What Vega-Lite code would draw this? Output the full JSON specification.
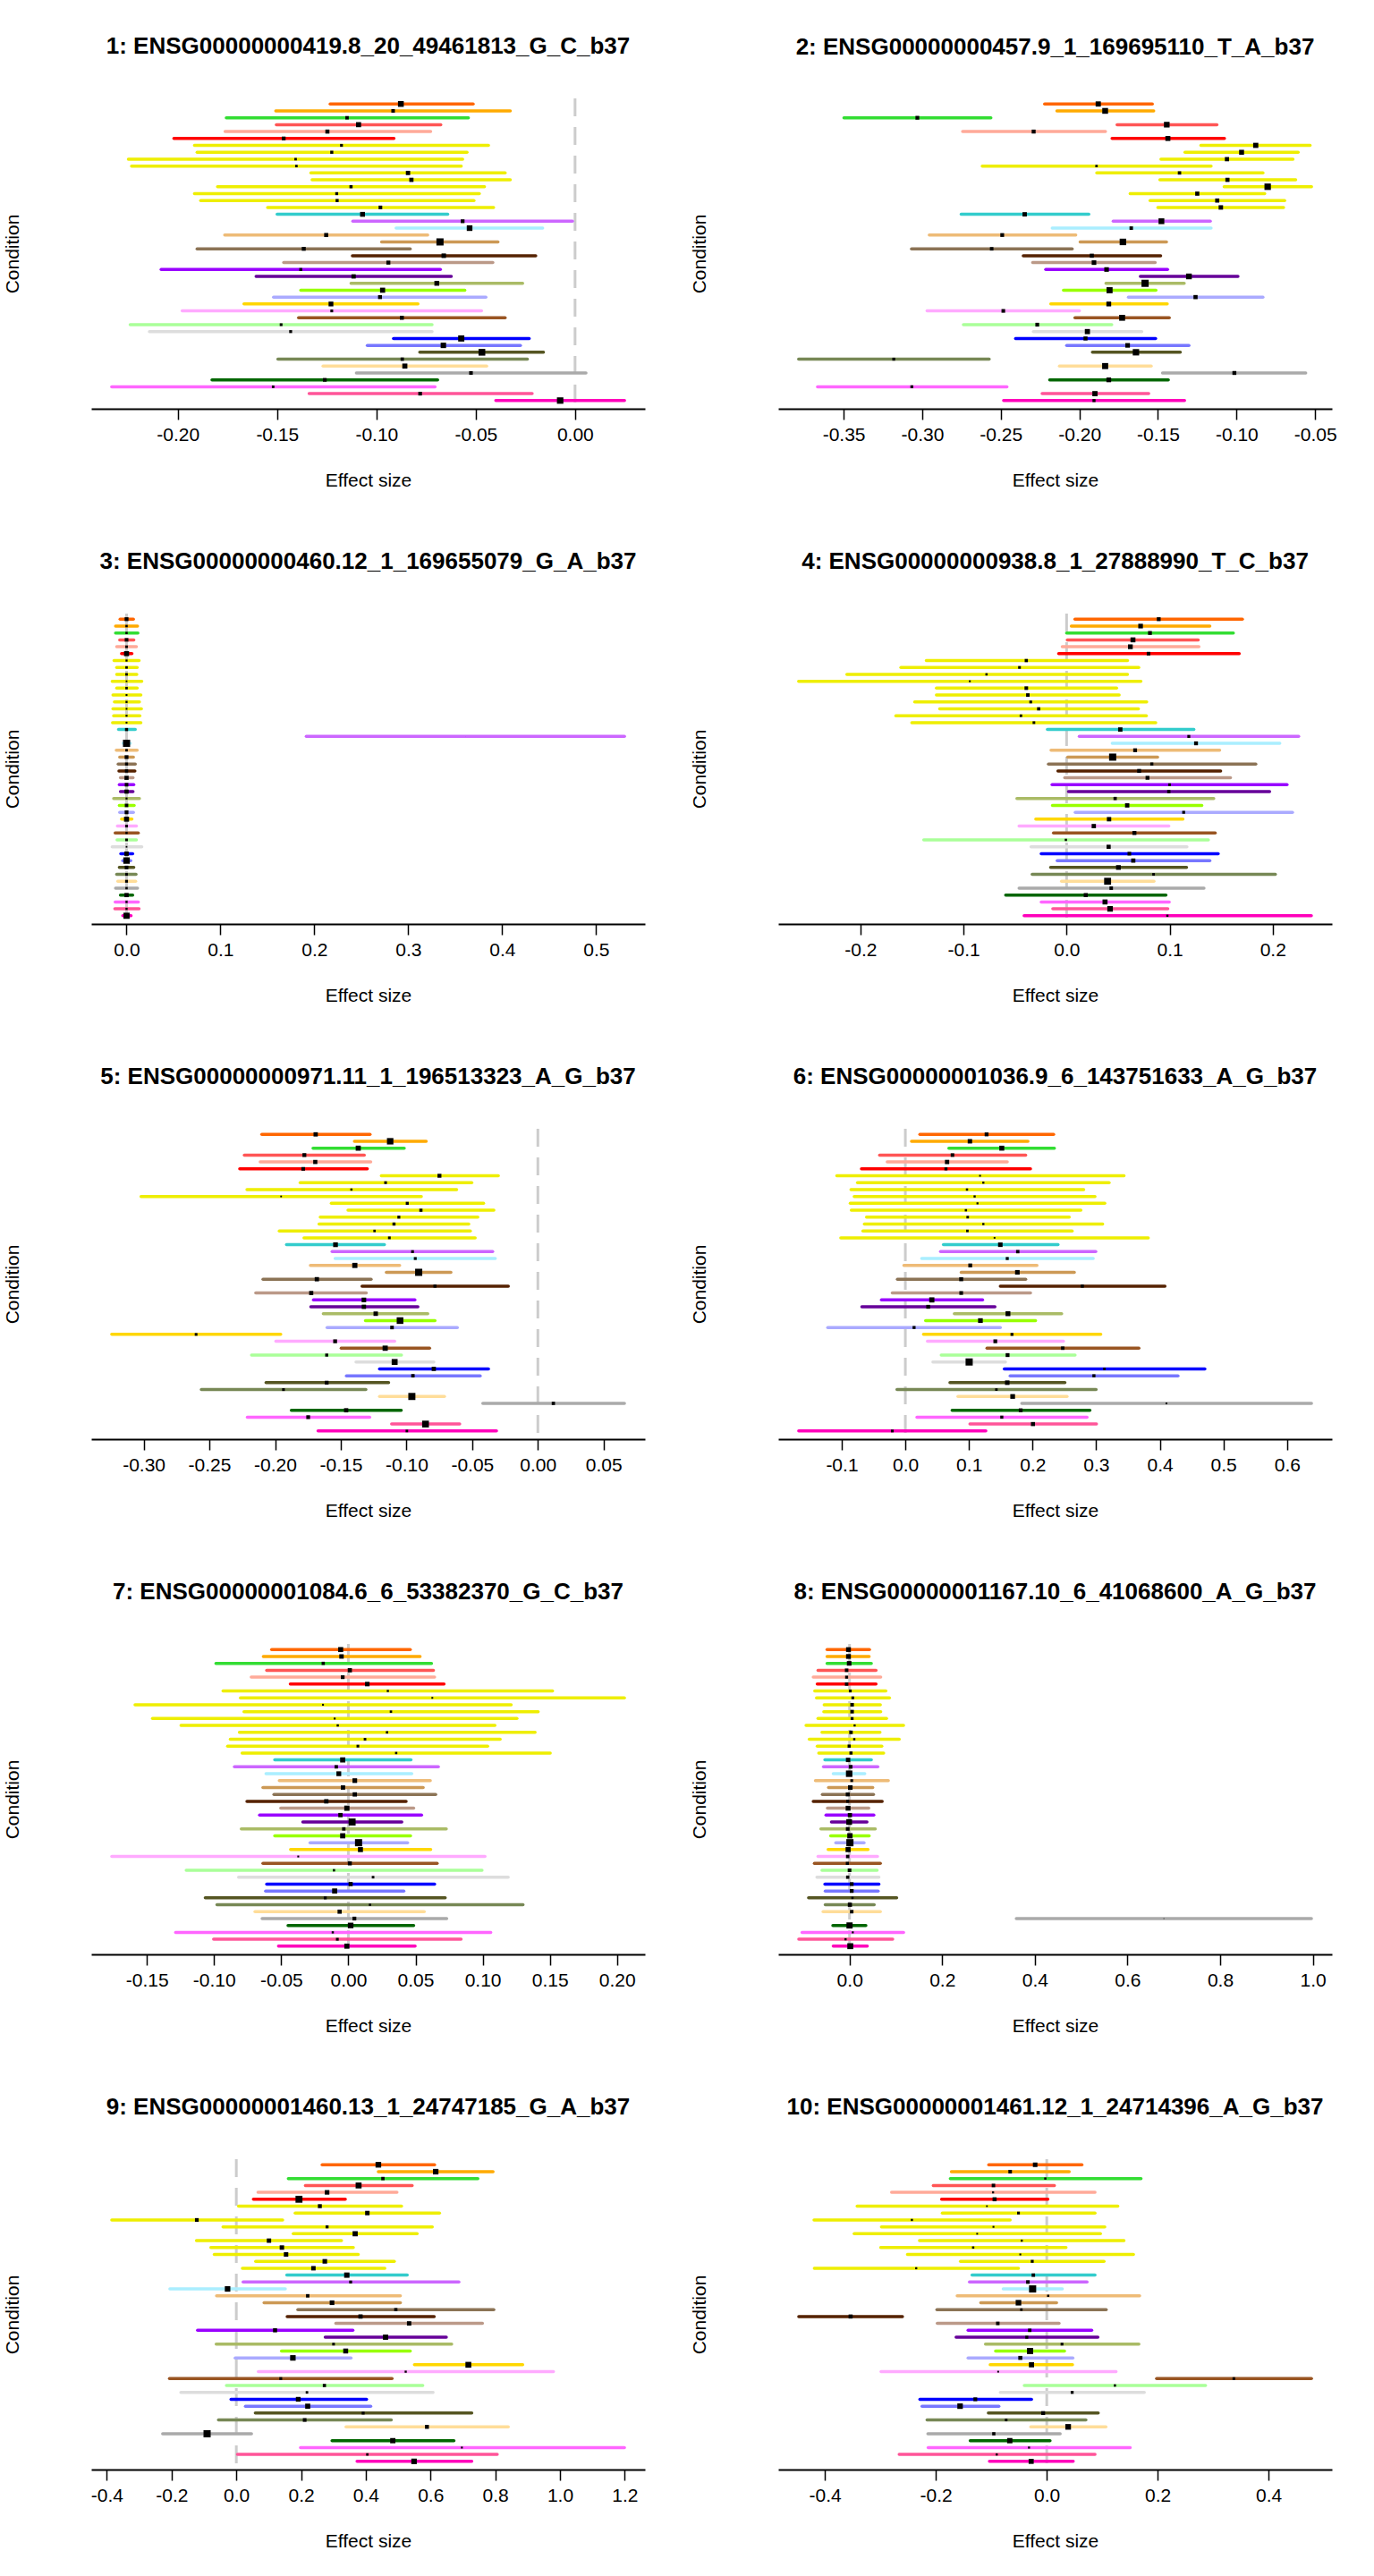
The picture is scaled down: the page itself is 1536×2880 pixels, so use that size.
{
"$schema": "https://vega.github.io/schema/vega-lite/v6.json",
"background": "white",
"padding": {"left": 3, "top": 38, "right": 0, "bottom": 0},
"data": {"values": [
{"g":1,"c":"ADPSBQ","lo":-0.1233,"m":-0.0877,"hi":-0.0513,"s":0.81},
{"g":1,"c":"ADPVSC","lo":-0.1507,"m":-0.0916,"hi":-0.0326,"s":0.50},
{"g":1,"c":"ADRNLG","lo":-0.1756,"m":-0.1148,"hi":-0.0537,"s":0.48},
{"g":1,"c":"ARTAORT","lo":-0.1504,"m":-0.1090,"hi":-0.0676,"s":0.71},
{"g":1,"c":"ARTCRN","lo":-0.1762,"m":-0.1247,"hi":-0.0727,"s":0.57},
{"g":1,"c":"ARTTBL","lo":-0.2020,"m":-0.1467,"hi":-0.0912,"s":0.53},
{"g":1,"c":"BRNACC","lo":-0.1916,"m":-0.1176,"hi":-0.0436,"s":0.40},
{"g":1,"c":"BRNCDT","lo":-0.1903,"m":-0.1225,"hi":-0.0544,"s":0.43},
{"g":1,"c":"BRNCHA","lo":-0.2249,"m":-0.1407,"hi":-0.0566,"s":0.35},
{"g":1,"c":"BRNCHB","lo":-0.2233,"m":-0.1403,"hi":-0.0573,"s":0.35},
{"g":1,"c":"BRNCTXA","lo":-0.1330,"m":-0.0841,"hi":-0.0352,"s":0.60},
{"g":1,"c":"BRNCTXB","lo":-0.1324,"m":-0.0824,"hi":-0.0326,"s":0.59},
{"g":1,"c":"BRNHPP","lo":-0.1800,"m":-0.1128,"hi":-0.0456,"s":0.44},
{"g":1,"c":"BRNHPT","lo":-0.1916,"m":-0.1200,"hi":-0.0482,"s":0.41},
{"g":1,"c":"BRNNCC","lo":-0.1885,"m":-0.1198,"hi":-0.0509,"s":0.43},
{"g":1,"c":"BRNPTM","lo":-0.1548,"m":-0.0980,"hi":-0.0410,"s":0.51},
{"g":1,"c":"BREAST","lo":-0.1500,"m":-0.1070,"hi":-0.0641,"s":0.68},
{"g":1,"c":"LCL","lo":-0.1119,"m":-0.0566,"hi":-0.0013,"s":0.53},
{"g":1,"c":"FIBRBLS","lo":-0.0901,"m":-0.0531,"hi":-0.0163,"s":0.79},
{"g":1,"c":"CLNSGM","lo":-0.1764,"m":-0.1253,"hi":-0.0742,"s":0.57},
{"g":1,"c":"CLNTRN","lo":-0.0974,"m":-0.0680,"hi":-0.0388,"s":1.00},
{"g":1,"c":"ESPGEJ","lo":-0.1903,"m":-0.1366,"hi":-0.0830,"s":0.55},
{"g":1,"c":"ESPMCS","lo":-0.1121,"m":-0.0661,"hi":-0.0198,"s":0.63},
{"g":1,"c":"ESPMSL","lo":-0.1467,"m":-0.0940,"hi":-0.0414,"s":0.56},
{"g":1,"c":"HRTAA","lo":-0.2084,"m":-0.1381,"hi":-0.0678,"s":0.42},
{"g":1,"c":"HRTLV","lo":-0.1606,"m":-0.1115,"hi":-0.0623,"s":0.60},
{"g":1,"c":"LIVER","lo":-0.1128,"m":-0.0696,"hi":-0.0264,"s":0.68},
{"g":1,"c":"LUNG","lo":-0.1381,"m":-0.0969,"hi":-0.0555,"s":0.71},
{"g":1,"c":"MSCLSK","lo":-0.1518,"m":-0.0982,"hi":-0.0449,"s":0.55},
{"g":1,"c":"NERVET","lo":-0.1667,"m":-0.1229,"hi":-0.0791,"s":0.67},
{"g":1,"c":"OVARY","lo":-0.1978,"m":-0.1225,"hi":-0.0471,"s":0.39},
{"g":1,"c":"PNCREAS","lo":-0.1392,"m":-0.0872,"hi":-0.0352,"s":0.56},
{"g":1,"c":"PTTARY","lo":-0.2240,"m":-0.1480,"hi":-0.0720,"s":0.39},
{"g":1,"c":"PRSTTE","lo":-0.2143,"m":-0.1432,"hi":-0.0720,"s":0.41},
{"g":1,"c":"SKINNS","lo":-0.0914,"m":-0.0573,"hi":-0.0231,"s":0.86},
{"g":1,"c":"SKINS","lo":-0.1046,"m":-0.0663,"hi":-0.0275,"s":0.76},
{"g":1,"c":"SNTTRM","lo":-0.0782,"m":-0.0469,"hi":-0.0159,"s":0.94},
{"g":1,"c":"SPLEEN","lo":-0.1496,"m":-0.0870,"hi":-0.0240,"s":0.47},
{"g":1,"c":"STMACH","lo":-0.1269,"m":-0.0857,"hi":-0.0445,"s":0.71},
{"g":1,"c":"TESTIS","lo":-0.1101,"m":-0.0524,"hi":0.0055,"s":0.51},
{"g":1,"c":"THYROID","lo":-0.1828,"m":-0.1260,"hi":-0.0692,"s":0.52},
{"g":1,"c":"UTERUS","lo":-0.2333,"m":-0.1520,"hi":-0.0705,"s":0.36},
{"g":1,"c":"VAGINA","lo":-0.1339,"m":-0.0780,"hi":-0.0216,"s":0.52},
{"g":1,"c":"WHLBLD","lo":-0.0399,"m":-0.0075,"hi":0.0249,"s":0.90},
{"g":2,"c":"ADPSBQ","lo":-0.2221,"m":-0.1880,"hi":-0.1536,"s":0.73},
{"g":2,"c":"ADPVSC","lo":-0.2143,"m":-0.1836,"hi":-0.1527,"s":0.81},
{"g":2,"c":"ADRNLG","lo":-0.3498,"m":-0.3031,"hi":-0.2563,"s":0.53},
{"g":2,"c":"ARTAORT","lo":-0.1760,"m":-0.1444,"hi":-0.1125,"s":0.79},
{"g":2,"c":"ARTCRN","lo":-0.2743,"m":-0.2291,"hi":-0.1834,"s":0.55},
{"g":2,"c":"ARTTBL","lo":-0.1792,"m":-0.1437,"hi":-0.1077,"s":0.70},
{"g":2,"c":"BRNACC","lo":-0.1227,"m":-0.0878,"hi":-0.0532,"s":0.72},
{"g":2,"c":"BRNCDT","lo":-0.1328,"m":-0.0968,"hi":-0.0608,"s":0.69},
{"g":2,"c":"BRNCHA","lo":-0.1481,"m":-0.1061,"hi":-0.0641,"s":0.59},
{"g":2,"c":"BRNCHB","lo":-0.2618,"m":-0.1891,"hi":-0.1162,"s":0.34},
{"g":2,"c":"BRNCTXA","lo":-0.1889,"m":-0.1363,"hi":-0.0832,"s":0.47},
{"g":2,"c":"BRNCTXB","lo":-0.1488,"m":-0.1058,"hi":-0.0624,"s":0.58},
{"g":2,"c":"BRNHPP","lo":-0.1079,"m":-0.0802,"hi":-0.0523,"s":0.90},
{"g":2,"c":"BRNHPT","lo":-0.1677,"m":-0.1250,"hi":-0.0821,"s":0.58},
{"g":2,"c":"BRNNCC","lo":-0.1550,"m":-0.1123,"hi":-0.0694,"s":0.58},
{"g":2,"c":"BRNPTM","lo":-0.1501,"m":-0.1100,"hi":-0.0701,"s":0.62},
{"g":2,"c":"BREAST","lo":-0.2752,"m":-0.2348,"hi":-0.1940,"s":0.61},
{"g":2,"c":"LCL","lo":-0.1785,"m":-0.1478,"hi":-0.1167,"s":0.81},
{"g":2,"c":"FIBRBLS","lo":-0.2173,"m":-0.1670,"hi":-0.1162,"s":0.49},
{"g":2,"c":"CLNSGM","lo":-0.2955,"m":-0.2491,"hi":-0.2023,"s":0.53},
{"g":2,"c":"CLNTRN","lo":-0.1995,"m":-0.1723,"hi":-0.1446,"s":0.91},
{"g":2,"c":"ESPGEJ","lo":-0.3068,"m":-0.2558,"hi":-0.2046,"s":0.49},
{"g":2,"c":"ESPMCS","lo":-0.2357,"m":-0.1921,"hi":-0.1483,"s":0.57},
{"g":2,"c":"ESPMSL","lo":-0.2297,"m":-0.1907,"hi":-0.1518,"s":0.64},
{"g":2,"c":"HRTAA","lo":-0.2214,"m":-0.1827,"hi":-0.1439,"s":0.64},
{"g":2,"c":"HRTLV","lo":-0.1612,"m":-0.1303,"hi":-0.0991,"s":0.80},
{"g":2,"c":"LIVER","lo":-0.1831,"m":-0.1582,"hi":-0.1333,"s":1.00},
{"g":2,"c":"LUNG","lo":-0.2101,"m":-0.1808,"hi":-0.1513,"s":0.85},
{"g":2,"c":"MSCLSK","lo":-0.1688,"m":-0.1261,"hi":-0.0832,"s":0.58},
{"g":2,"c":"NERVET","lo":-0.2182,"m":-0.1813,"hi":-0.1441,"s":0.67},
{"g":2,"c":"OVARY","lo":-0.2969,"m":-0.2484,"hi":-0.2000,"s":0.51},
{"g":2,"c":"PNCREAS","lo":-0.2028,"m":-0.1728,"hi":-0.1428,"s":0.83},
{"g":2,"c":"PTTARY","lo":-0.2738,"m":-0.2268,"hi":-0.1794,"s":0.53},
{"g":2,"c":"PRSTTE","lo":-0.2293,"m":-0.1949,"hi":-0.1603,"s":0.72},
{"g":2,"c":"SKINNS","lo":-0.2406,"m":-0.1961,"hi":-0.1515,"s":0.56},
{"g":2,"c":"SKINS","lo":-0.2081,"m":-0.1693,"hi":-0.1303,"s":0.64},
{"g":2,"c":"SNTTRM","lo":-0.1917,"m":-0.1640,"hi":-0.1358,"s":0.89},
{"g":2,"c":"SPLEEN","lo":-0.3786,"m":-0.3181,"hi":-0.2574,"s":0.41},
{"g":2,"c":"STMACH","lo":-0.2127,"m":-0.1836,"hi":-0.1543,"s":0.85},
{"g":2,"c":"TESTIS","lo":-0.1471,"m":-0.1014,"hi":-0.0560,"s":0.55},
{"g":2,"c":"THYROID","lo":-0.2189,"m":-0.1813,"hi":-0.1434,"s":0.66},
{"g":2,"c":"UTERUS","lo":-0.3666,"m":-0.3066,"hi":-0.2461,"s":0.41},
{"g":2,"c":"VAGINA","lo":-0.2237,"m":-0.1901,"hi":-0.1559,"s":0.73},
{"g":2,"c":"WHLBLD","lo":-0.2482,"m":-0.1907,"hi":-0.1331,"s":0.43},
{"g":3,"c":"ADPSBQ","lo":-0.0069,"m":0,"hi":0.0073,"s":0.54},
{"g":3,"c":"ADPVSC","lo":-0.0117,"m":0,"hi":0.0117,"s":0.33},
{"g":3,"c":"ADRNLG","lo":-0.0117,"m":0,"hi":0.0121,"s":0.32},
{"g":3,"c":"ARTAORT","lo":-0.0073,"m":0,"hi":0.0077,"s":0.51},
{"g":3,"c":"ARTCRN","lo":-0.0105,"m":0,"hi":0.0105,"s":0.37},
{"g":3,"c":"ARTTBL","lo":-0.0053,"m":0,"hi":0.0057,"s":0.70},
{"g":3,"c":"BRNACC","lo":-0.0133,"m":0,"hi":0.0133,"s":0.29},
{"g":3,"c":"BRNCDT","lo":-0.0105,"m":0,"hi":0.0113,"s":0.35},
{"g":3,"c":"BRNCHA","lo":-0.0105,"m":0,"hi":0.0109,"s":0.36},
{"g":3,"c":"BRNCHB","lo":-0.0153,"m":0,"hi":0.0162,"s":0.24},
{"g":3,"c":"BRNCTXA","lo":-0.0105,"m":0,"hi":0.0113,"s":0.35},
{"g":3,"c":"BRNCTXB","lo":-0.0145,"m":0,"hi":0.0153,"s":0.26},
{"g":3,"c":"BRNHPP","lo":-0.0129,"m":0,"hi":0.0137,"s":0.29},
{"g":3,"c":"BRNHPT","lo":-0.0145,"m":0,"hi":0.0158,"s":0.25},
{"g":3,"c":"BRNNCC","lo":-0.0137,"m":0,"hi":0.0141,"s":0.28},
{"g":3,"c":"BRNPTM","lo":-0.0149,"m":0,"hi":0.0153,"s":0.25},
{"g":3,"c":"BREAST","lo":-0.0085,"m":0,"hi":0.0093,"s":0.43},
{"g":3,"c":"LCL","lo":0.1914,"m":0.3607,"hi":0.5303,"s":0.02},
{"g":3,"c":"FIBRBLS","lo":-0.0036,"m":0,"hi":0.0040,"s":1.00},
{"g":3,"c":"CLNSGM","lo":-0.0109,"m":0,"hi":0.0113,"s":0.35},
{"g":3,"c":"CLNTRN","lo":-0.0073,"m":0,"hi":0.0073,"s":0.53},
{"g":3,"c":"ESPGEJ","lo":-0.0089,"m":0,"hi":0.0093,"s":0.42},
{"g":3,"c":"ESPMCS","lo":-0.0081,"m":0,"hi":0.0089,"s":0.45},
{"g":3,"c":"ESPMSL","lo":-0.0065,"m":0,"hi":0.0069,"s":0.58},
{"g":3,"c":"HRTAA","lo":-0.0077,"m":0,"hi":0.0077,"s":0.50},
{"g":3,"c":"HRTLV","lo":-0.0065,"m":0,"hi":0.0069,"s":0.58},
{"g":3,"c":"LIVER","lo":-0.0137,"m":0,"hi":0.0137,"s":0.28},
{"g":3,"c":"LUNG","lo":-0.0077,"m":0,"hi":0.0081,"s":0.49},
{"g":3,"c":"MSCLSK","lo":-0.0073,"m":0,"hi":0.0073,"s":0.53},
{"g":3,"c":"NERVET","lo":-0.0053,"m":0,"hi":0.0057,"s":0.70},
{"g":3,"c":"OVARY","lo":-0.0097,"m":0,"hi":0.0105,"s":0.38},
{"g":3,"c":"PNCREAS","lo":-0.0121,"m":0,"hi":0.0125,"s":0.31},
{"g":3,"c":"PTTARY","lo":-0.0101,"m":0,"hi":0.0105,"s":0.37},
{"g":3,"c":"PRSTTE","lo":-0.0153,"m":0,"hi":0.0162,"s":0.24},
{"g":3,"c":"SKINNS","lo":-0.0061,"m":0,"hi":0.0065,"s":0.61},
{"g":3,"c":"SKINS","lo":-0.0040,"m":0,"hi":0.0044,"s":0.90},
{"g":3,"c":"SNTTRM","lo":-0.0077,"m":0,"hi":0.0077,"s":0.50},
{"g":3,"c":"SPLEEN","lo":-0.0105,"m":0,"hi":0.0101,"s":0.37},
{"g":3,"c":"STMACH","lo":-0.0093,"m":0,"hi":0.0097,"s":0.40},
{"g":3,"c":"TESTIS","lo":-0.0117,"m":0,"hi":0.0117,"s":0.33},
{"g":3,"c":"THYROID","lo":-0.0065,"m":0,"hi":0.0065,"s":0.59},
{"g":3,"c":"UTERUS","lo":-0.0121,"m":0,"hi":0.0125,"s":0.31},
{"g":3,"c":"VAGINA","lo":-0.0125,"m":0,"hi":0.0133,"s":0.30},
{"g":3,"c":"WHLBLD","lo":-0.0040,"m":0,"hi":0.0048,"s":0.86},
{"g":4,"c":"ADPSBQ","lo":0.0081,"m":0.0894,"hi":0.1706,"s":0.54},
{"g":4,"c":"ADPVSC","lo":0.0046,"m":0.0718,"hi":0.1390,"s":0.65},
{"g":4,"c":"ADRNLG","lo":0.0000,"m":0.0809,"hi":0.1618,"s":0.54},
{"g":4,"c":"ARTAORT","lo":0.0007,"m":0.0644,"hi":0.1277,"s":0.69},
{"g":4,"c":"ARTCRN","lo":-0.0042,"m":0.0619,"hi":0.1284,"s":0.66},
{"g":4,"c":"ARTTBL","lo":-0.0077,"m":0.0795,"hi":0.1675,"s":0.50},
{"g":4,"c":"BRNACC","lo":-0.1361,"m":-0.0391,"hi":0.0591,"s":0.45},
{"g":4,"c":"BRNCDT","lo":-0.1608,"m":-0.0457,"hi":0.0700,"s":0.38},
{"g":4,"c":"BRNCHA","lo":-0.2132,"m":-0.0777,"hi":0.0591,"s":0.32},
{"g":4,"c":"BRNCHB","lo":-0.2600,"m":-0.0939,"hi":0.0721,"s":0.26},
{"g":4,"c":"BRNCTXA","lo":-0.1263,"m":-0.0391,"hi":0.0485,"s":0.50},
{"g":4,"c":"BRNCTXB","lo":-0.1263,"m":-0.0376,"hi":0.0510,"s":0.49},
{"g":4,"c":"BRNHPP","lo":-0.1474,"m":-0.0348,"hi":0.0777,"s":0.39},
{"g":4,"c":"BRNHPT","lo":-0.1231,"m":-0.0271,"hi":0.0697,"s":0.45},
{"g":4,"c":"BRNNCC","lo":-0.1657,"m":-0.0443,"hi":0.0774,"s":0.36},
{"g":4,"c":"BRNPTM","lo":-0.1502,"m":-0.0317,"hi":0.0865,"s":0.37},
{"g":4,"c":"BREAST","lo":-0.0186,"m":0.0521,"hi":0.1235,"s":0.61},
{"g":4,"c":"LCL","lo":0.0123,"m":0.1186,"hi":0.2252,"s":0.41},
{"g":4,"c":"FIBRBLS","lo":0.0443,"m":0.1256,"hi":0.2069,"s":0.54},
{"g":4,"c":"CLNSGM","lo":-0.0151,"m":0.0665,"hi":0.1485,"s":0.53},
{"g":4,"c":"CLNTRN","lo":0.0011,"m":0.0447,"hi":0.0883,"s":1.00},
{"g":4,"c":"ESPGEJ","lo":-0.0176,"m":0.0827,"hi":0.1836,"s":0.43},
{"g":4,"c":"ESPMCS","lo":-0.0084,"m":0.0704,"hi":0.1495,"s":0.55},
{"g":4,"c":"ESPMSL","lo":-0.0018,"m":0.0785,"hi":0.1590,"s":0.54},
{"g":4,"c":"HRTAA","lo":-0.0141,"m":0.0999,"hi":0.2139,"s":0.38},
{"g":4,"c":"HRTLV","lo":0.0018,"m":0.0992,"hi":0.1970,"s":0.45},
{"g":4,"c":"LIVER","lo":-0.0482,"m":0.0471,"hi":0.1428,"s":0.46},
{"g":4,"c":"LUNG","lo":-0.0137,"m":0.0588,"hi":0.1312,"s":0.60},
{"g":4,"c":"MSCLSK","lo":0.0084,"m":0.1136,"hi":0.2192,"s":0.41},
{"g":4,"c":"NERVET","lo":-0.0299,"m":0.0412,"hi":0.1129,"s":0.61},
{"g":4,"c":"OVARY","lo":-0.0461,"m":0.0264,"hi":0.0992,"s":0.60},
{"g":4,"c":"PNCREAS","lo":-0.0127,"m":0.0658,"hi":0.1442,"s":0.56},
{"g":4,"c":"PTTARY","lo":-0.1386,"m":-0.0007,"hi":0.1376,"s":0.32},
{"g":4,"c":"PRSTTE","lo":-0.0345,"m":0.0408,"hi":0.1168,"s":0.58},
{"g":4,"c":"SKINNS","lo":-0.0246,"m":0.0609,"hi":0.1471,"s":0.51},
{"g":4,"c":"SKINS","lo":-0.0091,"m":0.0647,"hi":0.1390,"s":0.59},
{"g":4,"c":"SNTTRM","lo":-0.0155,"m":0.0503,"hi":0.1164,"s":0.66},
{"g":4,"c":"SPLEEN","lo":-0.0334,"m":0.0844,"hi":0.2026,"s":0.37},
{"g":4,"c":"STMACH","lo":-0.0049,"m":0.0398,"hi":0.0848,"s":0.97},
{"g":4,"c":"TESTIS","lo":-0.0461,"m":0.0433,"hi":0.1333,"s":0.49},
{"g":4,"c":"THYROID","lo":-0.0591,"m":0.0186,"hi":0.0964,"s":0.56},
{"g":4,"c":"UTERUS","lo":-0.0246,"m":0.0373,"hi":0.0996,"s":0.70},
{"g":4,"c":"VAGINA","lo":-0.0134,"m":0.0422,"hi":0.0982,"s":0.78},
{"g":4,"c":"WHLBLD","lo":-0.0412,"m":0.0978,"hi":0.2375,"s":0.31},
{"g":5,"c":"ADPSBQ","lo":-0.2101,"m":-0.1691,"hi":-0.1277,"s":0.60},
{"g":5,"c":"ADPVSC","lo":-0.1396,"m":-0.1124,"hi":-0.0850,"s":0.90},
{"g":5,"c":"ADRNLG","lo":-0.1711,"m":-0.1367,"hi":-0.1017,"s":0.71},
{"g":5,"c":"ARTAORT","lo":-0.2234,"m":-0.1777,"hi":-0.1321,"s":0.54},
{"g":5,"c":"ARTCRN","lo":-0.2113,"m":-0.1694,"hi":-0.1272,"s":0.58},
{"g":5,"c":"ARTTBL","lo":-0.2269,"m":-0.1786,"hi":-0.1298,"s":0.51},
{"g":5,"c":"BRNACC","lo":-0.1191,"m":-0.0749,"hi":-0.0301,"s":0.55},
{"g":5,"c":"BRNCDT","lo":-0.1809,"m":-0.1159,"hi":-0.0503,"s":0.38},
{"g":5,"c":"BRNCHA","lo":-0.2214,"m":-0.1419,"hi":-0.0618,"s":0.31},
{"g":5,"c":"BRNCHB","lo":-0.3020,"m":-0.1954,"hi":-0.0887,"s":0.23},
{"g":5,"c":"BRNCTXA","lo":-0.1572,"m":-0.0994,"hi":-0.0413,"s":0.42},
{"g":5,"c":"BRNCTXB","lo":-0.1445,"m":-0.0890,"hi":-0.0335,"s":0.44},
{"g":5,"c":"BRNHPP","lo":-0.1656,"m":-0.1058,"hi":-0.0457,"s":0.41},
{"g":5,"c":"BRNHPT","lo":-0.1665,"m":-0.1095,"hi":-0.0526,"s":0.43},
{"g":5,"c":"BRNNCC","lo":-0.1968,"m":-0.1243,"hi":-0.0514,"s":0.34},
{"g":5,"c":"BRNPTM","lo":-0.1780,"m":-0.1130,"hi":-0.0477,"s":0.38},
{"g":5,"c":"BREAST","lo":-0.1913,"m":-0.1540,"hi":-0.1168,"s":0.66},
{"g":5,"c":"LCL","lo":-0.1566,"m":-0.0954,"hi":-0.0344,"s":0.40},
{"g":5,"c":"FIBRBLS","lo":-0.1543,"m":-0.0933,"hi":-0.0324,"s":0.40},
{"g":5,"c":"CLNSGM","lo":-0.1731,"m":-0.1393,"hi":-0.1052,"s":0.72},
{"g":5,"c":"CLNTRN","lo":-0.1153,"m":-0.0907,"hi":-0.0662,"s":1.00},
{"g":5,"c":"ESPGEJ","lo":-0.2092,"m":-0.1682,"hi":-0.1269,"s":0.60},
{"g":5,"c":"ESPMCS","lo":-0.1338,"m":-0.0783,"hi":-0.0225,"s":0.44},
{"g":5,"c":"ESPMSL","lo":-0.2147,"m":-0.1725,"hi":-0.1306,"s":0.58},
{"g":5,"c":"HRTAA","lo":-0.1708,"m":-0.1324,"hi":-0.0936,"s":0.64},
{"g":5,"c":"HRTLV","lo":-0.1728,"m":-0.1324,"hi":-0.0913,"s":0.60},
{"g":5,"c":"LIVER","lo":-0.1633,"m":-0.1234,"hi":-0.0838,"s":0.62},
{"g":5,"c":"LUNG","lo":-0.1312,"m":-0.1049,"hi":-0.0783,"s":0.93},
{"g":5,"c":"MSCLSK","lo":-0.1604,"m":-0.1110,"hi":-0.0613,"s":0.50},
{"g":5,"c":"NERVET","lo":-0.3243,"m":-0.2601,"hi":-0.1957,"s":0.38},
{"g":5,"c":"OVARY","lo":-0.1994,"m":-0.1543,"hi":-0.1090,"s":0.54},
{"g":5,"c":"PNCREAS","lo":-0.1497,"m":-0.1162,"hi":-0.0824,"s":0.73},
{"g":5,"c":"PTTARY","lo":-0.2179,"m":-0.1607,"hi":-0.1038,"s":0.43},
{"g":5,"c":"PRSTTE","lo":-0.1384,"m":-0.1090,"hi":-0.0792,"s":0.83},
{"g":5,"c":"SKINNS","lo":-0.1205,"m":-0.0792,"hi":-0.0376,"s":0.59},
{"g":5,"c":"SKINS","lo":-0.1457,"m":-0.0951,"hi":-0.0439,"s":0.48},
{"g":5,"c":"SNTTRM","lo":-0.2069,"m":-0.1607,"hi":-0.1136,"s":0.53},
{"g":5,"c":"SPLEEN","lo":-0.2561,"m":-0.1936,"hi":-0.1309,"s":0.39},
{"g":5,"c":"STMACH","lo":-0.1205,"m":-0.0959,"hi":-0.0711,"s":0.99},
{"g":5,"c":"TESTIS","lo":-0.0419,"m":0.0118,"hi":0.0659,"s":0.46},
{"g":5,"c":"THYROID","lo":-0.1876,"m":-0.1459,"hi":-0.1040,"s":0.59},
{"g":5,"c":"UTERUS","lo":-0.2211,"m":-0.1748,"hi":-0.1280,"s":0.53},
{"g":5,"c":"VAGINA","lo":-0.1113,"m":-0.0855,"hi":-0.0595,"s":0.95},
{"g":5,"c":"WHLBLD","lo":-0.1673,"m":-0.0997,"hi":-0.0315,"s":0.36},
{"g":6,"c":"ADPSBQ","lo":0.0228,"m":0.1277,"hi":0.2331,"s":0.54},
{"g":6,"c":"ADPVSC","lo":0.0097,"m":0.1015,"hi":0.1927,"s":0.62},
{"g":6,"c":"ADRNLG","lo":0.0684,"m":0.1516,"hi":0.2343,"s":0.69},
{"g":6,"c":"ARTAORT","lo":-0.0405,"m":0.0741,"hi":0.1892,"s":0.50},
{"g":6,"c":"ARTCRN","lo":-0.0285,"m":0.0656,"hi":0.1602,"s":0.60},
{"g":6,"c":"ARTTBL","lo":-0.0690,"m":0.0638,"hi":0.1967,"s":0.43},
{"g":6,"c":"BRNACC","lo":-0.1077,"m":0.1174,"hi":0.3437,"s":0.25},
{"g":6,"c":"BRNCDT","lo":-0.0752,"m":0.1226,"hi":0.3203,"s":0.29},
{"g":6,"c":"BRNCHA","lo":-0.0855,"m":0.0969,"hi":0.2804,"s":0.31},
{"g":6,"c":"BRNCHB","lo":-0.0804,"m":0.1089,"hi":0.2981,"s":0.30},
{"g":6,"c":"BRNCTXA","lo":-0.0866,"m":0.1134,"hi":0.3135,"s":0.28},
{"g":6,"c":"BRNCTXB","lo":-0.0849,"m":0.0952,"hi":0.2759,"s":0.32},
{"g":6,"c":"BRNHPP","lo":-0.0610,"m":0.0980,"hi":0.2576,"s":0.36},
{"g":6,"c":"BRNHPT","lo":-0.0644,"m":0.1226,"hi":0.3101,"s":0.30},
{"g":6,"c":"BRNNCC","lo":-0.0667,"m":0.0975,"hi":0.2622,"s":0.35},
{"g":6,"c":"BRNPTM","lo":-0.1015,"m":0.1402,"hi":0.3819,"s":0.24},
{"g":6,"c":"BREAST","lo":0.0599,"m":0.1493,"hi":0.2400,"s":0.63},
{"g":6,"c":"LCL","lo":0.0553,"m":0.1767,"hi":0.2993,"s":0.47},
{"g":6,"c":"FIBRBLS","lo":0.0257,"m":0.1602,"hi":0.2953,"s":0.42},
{"g":6,"c":"CLNSGM","lo":-0.0023,"m":0.1020,"hi":0.2069,"s":0.54},
{"g":6,"c":"CLNTRN","lo":0.0878,"m":0.1761,"hi":0.2656,"s":0.64},
{"g":6,"c":"ESPGEJ","lo":-0.0125,"m":0.0878,"hi":0.1892,"s":0.56},
{"g":6,"c":"ESPMCS","lo":0.1493,"m":0.2782,"hi":0.4081,"s":0.44},
{"g":6,"c":"ESPMSL","lo":-0.0205,"m":0.0878,"hi":0.1967,"s":0.52},
{"g":6,"c":"HRTAA","lo":-0.0376,"m":0.0416,"hi":0.1214,"s":0.72},
{"g":6,"c":"HRTLV","lo":-0.0684,"m":0.0359,"hi":0.1408,"s":0.54},
{"g":6,"c":"LIVER","lo":0.0770,"m":0.1613,"hi":0.2457,"s":0.68},
{"g":6,"c":"LUNG","lo":0.0319,"m":0.1180,"hi":0.2046,"s":0.66},
{"g":6,"c":"MSCLSK","lo":-0.1220,"m":0.0137,"hi":0.1493,"s":0.42},
{"g":6,"c":"NERVET","lo":0.0285,"m":0.1676,"hi":0.3072,"s":0.41},
{"g":6,"c":"OVARY","lo":0.0348,"m":0.1414,"hi":0.2485,"s":0.53},
{"g":6,"c":"PNCREAS","lo":0.1283,"m":0.2474,"hi":0.3671,"s":0.48},
{"g":6,"c":"PTTARY","lo":0.0564,"m":0.1607,"hi":0.2668,"s":0.54},
{"g":6,"c":"PRSTTE","lo":0.0433,"m":0.1003,"hi":0.1573,"s":1.00},
{"g":6,"c":"SKINNS","lo":0.1556,"m":0.3129,"hi":0.4708,"s":0.36},
{"g":6,"c":"SKINS","lo":0.1647,"m":0.2964,"hi":0.4286,"s":0.43},
{"g":6,"c":"SNTTRM","lo":0.0701,"m":0.1602,"hi":0.2508,"s":0.63},
{"g":6,"c":"SPLEEN","lo":-0.0131,"m":0.1431,"hi":0.2998,"s":0.36},
{"g":6,"c":"STMACH","lo":0.0827,"m":0.1687,"hi":0.2542,"s":0.66},
{"g":6,"c":"TESTIS","lo":0.1830,"m":0.4104,"hi":0.6384,"s":0.25},
{"g":6,"c":"THYROID","lo":0.0735,"m":0.1813,"hi":0.2901,"s":0.53},
{"g":6,"c":"UTERUS","lo":0.0182,"m":0.1516,"hi":0.2856,"s":0.43},
{"g":6,"c":"VAGINA","lo":0.1015,"m":0.2006,"hi":0.3004,"s":0.57},
{"g":6,"c":"WHLBLD","lo":-0.1676,"m":-0.0205,"hi":0.1265,"s":0.39},
{"g":7,"c":"ADPSBQ","lo":-0.0571,"m":-0.0057,"hi":0.0461,"s":0.70},
{"g":7,"c":"ADPVSC","lo":-0.0633,"m":-0.0051,"hi":0.0534,"s":0.62},
{"g":7,"c":"ADRNLG","lo":-0.0986,"m":-0.0187,"hi":0.0619,"s":0.45},
{"g":7,"c":"ARTAORT","lo":-0.0608,"m":0.0011,"hi":0.0633,"s":0.59},
{"g":7,"c":"ARTCRN","lo":-0.0723,"m":-0.0042,"hi":0.0642,"s":0.53},
{"g":7,"c":"ARTTBL","lo":-0.0432,"m":0.0141,"hi":0.0712,"s":0.63},
{"g":7,"c":"BRNACC","lo":-0.0933,"m":0.0294,"hi":0.1520,"s":0.30},
{"g":7,"c":"BRNCDT","lo":-0.0803,"m":0.0625,"hi":0.2055,"s":0.25},
{"g":7,"c":"BRNCHA","lo":-0.1588,"m":-0.0189,"hi":0.1212,"s":0.26},
{"g":7,"c":"BRNCHB","lo":-0.0777,"m":0.0317,"hi":0.1413,"s":0.33},
{"g":7,"c":"BRNCTXA","lo":-0.1458,"m":-0.0102,"hi":0.1255,"s":0.27},
{"g":7,"c":"BRNCTXB","lo":-0.1246,"m":-0.0079,"hi":0.1091,"s":0.31},
{"g":7,"c":"BRNHPP","lo":-0.0811,"m":0.0288,"hi":0.1390,"s":0.33},
{"g":7,"c":"BRNHPT","lo":-0.0879,"m":0.0124,"hi":0.1130,"s":0.36},
{"g":7,"c":"BRNNCC","lo":-0.0899,"m":0.0071,"hi":0.1037,"s":0.38},
{"g":7,"c":"BRNPTM","lo":-0.0791,"m":0.0356,"hi":0.1503,"s":0.32},
{"g":7,"c":"BREAST","lo":-0.0548,"m":-0.0042,"hi":0.0466,"s":0.72},
{"g":7,"c":"LCL","lo":-0.0848,"m":-0.0090,"hi":0.0670,"s":0.48},
{"g":7,"c":"FIBRBLS","lo":-0.0613,"m":-0.0071,"hi":0.0472,"s":0.67},
{"g":7,"c":"CLNSGM","lo":-0.0514,"m":0.0048,"hi":0.0610,"s":0.65},
{"g":7,"c":"CLNTRN","lo":-0.0636,"m":-0.0040,"hi":0.0557,"s":0.61},
{"g":7,"c":"ESPGEJ","lo":-0.0554,"m":0.0048,"hi":0.0650,"s":0.60},
{"g":7,"c":"ESPMCS","lo":-0.0755,"m":-0.0164,"hi":0.0430,"s":0.61},
{"g":7,"c":"ESPMSL","lo":-0.0503,"m":-0.0011,"hi":0.0486,"s":0.73},
{"g":7,"c":"HRTAA","lo":-0.0661,"m":-0.0059,"hi":0.0545,"s":0.60},
{"g":7,"c":"HRTLV","lo":-0.0339,"m":0.0028,"hi":0.0398,"s":0.98},
{"g":7,"c":"LIVER","lo":-0.0797,"m":-0.0034,"hi":0.0729,"s":0.48},
{"g":7,"c":"LUNG","lo":-0.0548,"m":-0.0042,"hi":0.0463,"s":0.72},
{"g":7,"c":"MSCLSK","lo":-0.0285,"m":0.0076,"hi":0.0441,"s":1.00},
{"g":7,"c":"NERVET","lo":-0.0430,"m":0.0090,"hi":0.0613,"s":0.70},
{"g":7,"c":"OVARY","lo":-0.1761,"m":-0.0373,"hi":0.1017,"s":0.26},
{"g":7,"c":"PNCREAS","lo":-0.0636,"m":0.0011,"hi":0.0661,"s":0.56},
{"g":7,"c":"PTTARY","lo":-0.1207,"m":-0.0107,"hi":0.0995,"s":0.33},
{"g":7,"c":"PRSTTE","lo":-0.0817,"m":0.0184,"hi":0.1190,"s":0.36},
{"g":7,"c":"SKINNS","lo":-0.0608,"m":0.0017,"hi":0.0642,"s":0.58},
{"g":7,"c":"SKINS","lo":-0.0616,"m":-0.0102,"hi":0.0413,"s":0.71},
{"g":7,"c":"SNTTRM","lo":-0.1065,"m":-0.0172,"hi":0.0721,"s":0.41},
{"g":7,"c":"SPLEEN","lo":-0.0978,"m":0.0161,"hi":0.1300,"s":0.32},
{"g":7,"c":"STMACH","lo":-0.0695,"m":-0.0065,"hi":0.0565,"s":0.58},
{"g":7,"c":"TESTIS","lo":-0.0642,"m":0.0045,"hi":0.0732,"s":0.53},
{"g":7,"c":"THYROID","lo":-0.0449,"m":0.0017,"hi":0.0486,"s":0.78},
{"g":7,"c":"UTERUS","lo":-0.1286,"m":-0.0116,"hi":0.1060,"s":0.31},
{"g":7,"c":"VAGINA","lo":-0.1003,"m":-0.0082,"hi":0.0839,"s":0.39},
{"g":7,"c":"WHLBLD","lo":-0.0520,"m":-0.0011,"hi":0.0497,"s":0.71},
{"g":8,"c":"ADPSBQ","lo":-0.0485,"m":-0.0023,"hi":0.0430,"s":0.67},
{"g":8,"c":"ADPVSC","lo":-0.0485,"m":-0.0023,"hi":0.0423,"s":0.67},
{"g":8,"c":"ADRNLG","lo":-0.0485,"m":-0.0008,"hi":0.0470,"s":0.64},
{"g":8,"c":"ARTAORT","lo":-0.0681,"m":-0.0063,"hi":0.0571,"s":0.49},
{"g":8,"c":"ARTCRN","lo":-0.0783,"m":-0.0063,"hi":0.0673,"s":0.42},
{"g":8,"c":"ARTTBL","lo":-0.0697,"m":-0.0063,"hi":0.0571,"s":0.48},
{"g":8,"c":"BRNACC","lo":-0.0751,"m":0.0016,"hi":0.0783,"s":0.40},
{"g":8,"c":"BRNCDT","lo":-0.0712,"m":0.0070,"hi":0.0861,"s":0.39},
{"g":8,"c":"BRNCHA","lo":-0.0548,"m":0.0055,"hi":0.0665,"s":0.50},
{"g":8,"c":"BRNCHB","lo":-0.0556,"m":0.0055,"hi":0.0673,"s":0.50},
{"g":8,"c":"BRNCTXA","lo":-0.0681,"m":0.0055,"hi":0.0798,"s":0.41},
{"g":8,"c":"BRNCTXB","lo":-0.0939,"m":0.0110,"hi":0.1166,"s":0.29},
{"g":8,"c":"BRNHPP","lo":-0.0595,"m":0.0031,"hi":0.0657,"s":0.49},
{"g":8,"c":"BRNHPT","lo":-0.0869,"m":0.0102,"hi":0.1072,"s":0.31},
{"g":8,"c":"BRNNCC","lo":-0.0697,"m":-0.0008,"hi":0.0697,"s":0.44},
{"g":8,"c":"BRNPTM","lo":-0.0665,"m":0.0031,"hi":0.0736,"s":0.44},
{"g":8,"c":"BREAST","lo":-0.0532,"m":-0.0031,"hi":0.0470,"s":0.61},
{"g":8,"c":"LCL","lo":-0.0563,"m":0.0023,"hi":0.0610,"s":0.52},
{"g":8,"c":"FIBRBLS","lo":-0.0352,"m":-0.0008,"hi":0.0329,"s":0.90},
{"g":8,"c":"CLNSGM","lo":-0.0736,"m":0.0047,"hi":0.0837,"s":0.39},
{"g":8,"c":"CLNTRN","lo":-0.0454,"m":0.0016,"hi":0.0501,"s":0.64},
{"g":8,"c":"ESPGEJ","lo":-0.0587,"m":-0.0039,"hi":0.0517,"s":0.55},
{"g":8,"c":"ESPMCS","lo":-0.0783,"m":-0.0039,"hi":0.0704,"s":0.41},
{"g":8,"c":"ESPMSL","lo":-0.0477,"m":-0.0031,"hi":0.0415,"s":0.68},
{"g":8,"c":"HRTAA","lo":-0.0509,"m":0.0008,"hi":0.0524,"s":0.59},
{"g":8,"c":"HRTLV","lo":-0.0391,"m":-0.0008,"hi":0.0376,"s":0.80},
{"g":8,"c":"LIVER","lo":-0.0618,"m":-0.0039,"hi":0.0556,"s":0.52},
{"g":8,"c":"LUNG","lo":-0.0407,"m":0.0008,"hi":0.0423,"s":0.74},
{"g":8,"c":"MSCLSK","lo":-0.0297,"m":0.0008,"hi":0.0313,"s":1.00},
{"g":8,"c":"NERVET","lo":-0.0462,"m":-0.0031,"hi":0.0399,"s":0.71},
{"g":8,"c":"OVARY","lo":-0.0681,"m":-0.0039,"hi":0.0603,"s":0.48},
{"g":8,"c":"PNCREAS","lo":-0.0759,"m":-0.0047,"hi":0.0665,"s":0.43},
{"g":8,"c":"PTTARY","lo":-0.0595,"m":0.0000,"hi":0.0595,"s":0.51},
{"g":8,"c":"PRSTTE","lo":-0.0704,"m":-0.0039,"hi":0.0634,"s":0.46},
{"g":8,"c":"SKINNS","lo":-0.0532,"m":0.0047,"hi":0.0634,"s":0.52},
{"g":8,"c":"SKINS","lo":-0.0524,"m":0.0047,"hi":0.0618,"s":0.53},
{"g":8,"c":"SNTTRM","lo":-0.0884,"m":0.0063,"hi":0.1017,"s":0.32},
{"g":8,"c":"SPLEEN","lo":-0.0524,"m":0.0008,"hi":0.0532,"s":0.58},
{"g":8,"c":"STMACH","lo":-0.0571,"m":0.0047,"hi":0.0665,"s":0.49},
{"g":8,"c":"TESTIS","lo":0.3600,"m":0.6785,"hi":0.9970,"s":0.10},
{"g":8,"c":"THYROID","lo":-0.0360,"m":0.0000,"hi":0.0352,"s":0.86},
{"g":8,"c":"UTERUS","lo":-0.1025,"m":0.0070,"hi":0.1166,"s":0.28},
{"g":8,"c":"VAGINA","lo":-0.1096,"m":-0.0086,"hi":0.0931,"s":0.30},
{"g":8,"c":"WHLBLD","lo":-0.0352,"m":0.0016,"hi":0.0383,"s":0.83},
{"g":9,"c":"ADPSBQ","lo":0.2652,"m":0.4388,"hi":0.6125,"s":0.79},
{"g":9,"c":"ADPVSC","lo":0.4388,"m":0.6160,"hi":0.7932,"s":0.77},
{"g":9,"c":"ADRNLG","lo":0.1607,"m":0.4529,"hi":0.7462,"s":0.47},
{"g":9,"c":"ARTAORT","lo":0.2135,"m":0.3778,"hi":0.5432,"s":0.83},
{"g":9,"c":"ARTCRN","lo":0.0669,"m":0.2804,"hi":0.4963,"s":0.64},
{"g":9,"c":"ARTTBL","lo":0.0528,"m":0.1936,"hi":0.3367,"s":0.97},
{"g":9,"c":"BRNACC","lo":0.0070,"m":0.2581,"hi":0.5104,"s":0.55},
{"g":9,"c":"BRNCDT","lo":0.1819,"m":0.4048,"hi":0.6277,"s":0.62},
{"g":9,"c":"BRNCHA","lo":-0.3848,"m":-0.1220,"hi":0.1431,"s":0.52},
{"g":9,"c":"BRNCHB","lo":-0.0411,"m":0.2804,"hi":0.6054,"s":0.42},
{"g":9,"c":"BRNCTXA","lo":0.1760,"m":0.3672,"hi":0.5585,"s":0.72},
{"g":9,"c":"BRNCTXB","lo":-0.1232,"m":0.1009,"hi":0.3250,"s":0.61},
{"g":9,"c":"BRNHPP","lo":-0.0786,"m":0.1408,"hi":0.3614,"s":0.62},
{"g":9,"c":"BRNHPT","lo":-0.0681,"m":0.1537,"hi":0.3766,"s":0.62},
{"g":9,"c":"BRNNCC","lo":0.0598,"m":0.2734,"hi":0.4881,"s":0.64},
{"g":9,"c":"BRNPTM","lo":0.0188,"m":0.2382,"hi":0.4588,"s":0.62},
{"g":9,"c":"BREAST","lo":0.1560,"m":0.3414,"hi":0.5280,"s":0.74},
{"g":9,"c":"LCL","lo":0.0211,"m":0.3532,"hi":0.6876,"s":0.41},
{"g":9,"c":"FIBRBLS","lo":-0.2053,"m":-0.0270,"hi":0.1514,"s":0.77},
{"g":9,"c":"CLNSGM","lo":-0.0610,"m":0.2206,"hi":0.5069,"s":0.48},
{"g":9,"c":"CLNTRN","lo":0.0857,"m":0.2957,"hi":0.5069,"s":0.65},
{"g":9,"c":"ESPGEJ","lo":0.1901,"m":0.4928,"hi":0.7955,"s":0.45},
{"g":9,"c":"ESPMCS","lo":0.1572,"m":0.3837,"hi":0.6113,"s":0.60},
{"g":9,"c":"ESPMSL","lo":0.3074,"m":0.5339,"hi":0.7603,"s":0.61},
{"g":9,"c":"HRTAA","lo":-0.1197,"m":0.1197,"hi":0.3602,"s":0.57},
{"g":9,"c":"HRTLV","lo":0.2746,"m":0.4611,"hi":0.6488,"s":0.73},
{"g":9,"c":"LIVER","lo":-0.0622,"m":0.3004,"hi":0.6653,"s":0.38},
{"g":9,"c":"LUNG","lo":0.1396,"m":0.3379,"hi":0.5374,"s":0.69},
{"g":9,"c":"MSCLSK","lo":-0.0035,"m":0.1748,"hi":0.3543,"s":0.77},
{"g":9,"c":"NERVET","lo":0.5503,"m":0.7169,"hi":0.8847,"s":0.82},
{"g":9,"c":"OVARY","lo":0.0681,"m":0.5233,"hi":0.9797,"s":0.30},
{"g":9,"c":"PNCREAS","lo":-0.2065,"m":0.1373,"hi":0.4811,"s":0.40},
{"g":9,"c":"PTTARY","lo":-0.0305,"m":0.2722,"hi":0.5761,"s":0.45},
{"g":9,"c":"PRSTTE","lo":-0.1713,"m":0.2182,"hi":0.6078,"s":0.35},
{"g":9,"c":"SKINNS","lo":-0.0164,"m":0.1913,"hi":0.4024,"s":0.66},
{"g":9,"c":"SKINS","lo":0.0282,"m":0.2206,"hi":0.4153,"s":0.71},
{"g":9,"c":"SNTTRM","lo":0.0587,"m":0.3919,"hi":0.7274,"s":0.41},
{"g":9,"c":"SPLEEN","lo":-0.0551,"m":0.2112,"hi":0.4787,"s":0.51},
{"g":9,"c":"STMACH","lo":0.3391,"m":0.5890,"hi":0.8401,"s":0.55},
{"g":9,"c":"TESTIS","lo":-0.2276,"m":-0.0903,"hi":0.0469,"s":1.00},
{"g":9,"c":"THYROID","lo":0.2957,"m":0.4834,"hi":0.6723,"s":0.73},
{"g":9,"c":"UTERUS","lo":0.1983,"m":0.6969,"hi":1.1991,"s":0.27},
{"g":9,"c":"VAGINA","lo":0.0035,"m":0.4048,"hi":0.8061,"s":0.34},
{"g":9,"c":"WHLBLD","lo":0.3731,"m":0.5491,"hi":0.7274,"s":0.77},
{"g":10,"c":"ADPSBQ","lo":-0.1046,"m":-0.0209,"hi":0.0634,"s":0.63},
{"g":10,"c":"ADPVSC","lo":-0.1720,"m":-0.0660,"hi":0.0405,"s":0.50},
{"g":10,"c":"ADRNLG","lo":-0.1739,"m":-0.0026,"hi":0.1700,"s":0.31},
{"g":10,"c":"ARTAORT","lo":-0.2046,"m":-0.0961,"hi":0.0137,"s":0.49},
{"g":10,"c":"ARTCRN","lo":-0.2798,"m":-0.0968,"hi":0.0870,"s":0.29},
{"g":10,"c":"ARTTBL","lo":-0.1896,"m":-0.0941,"hi":0.0020,"s":0.56},
{"g":10,"c":"BRNACC","lo":-0.3419,"m":-0.1079,"hi":0.1281,"s":0.23},
{"g":10,"c":"BRNCDT","lo":-0.1883,"m":-0.0510,"hi":0.0870,"s":0.39},
{"g":10,"c":"BRNCHA","lo":-0.4197,"m":-0.2432,"hi":-0.0660,"s":0.30},
{"g":10,"c":"BRNCHB","lo":-0.2981,"m":-0.0961,"hi":0.1046,"s":0.26},
{"g":10,"c":"BRNCTXA","lo":-0.3472,"m":-0.1255,"hi":0.0968,"s":0.24},
{"g":10,"c":"BRNCTXB","lo":-0.2295,"m":-0.0451,"hi":0.1393,"s":0.29},
{"g":10,"c":"BRNHPP","lo":-0.2994,"m":-0.1327,"hi":0.0347,"s":0.32},
{"g":10,"c":"BRNHPT","lo":-0.2511,"m":-0.0477,"hi":0.1563,"s":0.26},
{"g":10,"c":"BRNNCC","lo":-0.1556,"m":-0.0262,"hi":0.1033,"s":0.41},
{"g":10,"c":"BRNPTM","lo":-0.4191,"m":-0.2354,"hi":-0.0510,"s":0.29},
{"g":10,"c":"BREAST","lo":-0.1347,"m":-0.0242,"hi":0.0870,"s":0.48},
{"g":10,"c":"LCL","lo":-0.1393,"m":-0.0340,"hi":0.0726,"s":0.50},
{"g":10,"c":"FIBRBLS","lo":-0.0785,"m":-0.0255,"hi":0.0281,"s":1.00},
{"g":10,"c":"CLNSGM","lo":-0.1615,"m":0.0026,"hi":0.1674,"s":0.32},
{"g":10,"c":"CLNTRN","lo":-0.1190,"m":-0.0510,"hi":0.0177,"s":0.78},
{"g":10,"c":"ESPGEJ","lo":-0.1981,"m":-0.0458,"hi":0.1072,"s":0.35},
{"g":10,"c":"ESPMCS","lo":-0.4472,"m":-0.3537,"hi":-0.2602,"s":0.57},
{"g":10,"c":"ESPMSL","lo":-0.1974,"m":-0.0883,"hi":0.0222,"s":0.49},
{"g":10,"c":"HRTAA","lo":-0.1419,"m":-0.0307,"hi":0.0811,"s":0.48},
{"g":10,"c":"HRTLV","lo":-0.1635,"m":-0.0360,"hi":0.0922,"s":0.42},
{"g":10,"c":"LIVER","lo":-0.1105,"m":0.0275,"hi":0.1661,"s":0.39},
{"g":10,"c":"LUNG","lo":-0.0922,"m":-0.0301,"hi":0.0320,"s":0.86},
{"g":10,"c":"MSCLSK","lo":-0.1419,"m":-0.0477,"hi":0.0471,"s":0.56},
{"g":10,"c":"NERVET","lo":-0.1020,"m":-0.0275,"hi":0.0464,"s":0.72},
{"g":10,"c":"OVARY","lo":-0.2988,"m":-0.0876,"hi":0.1249,"s":0.25},
{"g":10,"c":"PNCREAS","lo":0.1981,"m":0.3374,"hi":0.4773,"s":0.38},
{"g":10,"c":"PTTARY","lo":-0.0405,"m":0.1229,"hi":0.2864,"s":0.33},
{"g":10,"c":"PRSTTE","lo":-0.0837,"m":0.0458,"hi":0.1759,"s":0.41},
{"g":10,"c":"SKINNS","lo":-0.2288,"m":-0.1288,"hi":-0.0275,"s":0.53},
{"g":10,"c":"SKINS","lo":-0.2249,"m":-0.1563,"hi":-0.0863,"s":0.77},
{"g":10,"c":"SNTTRM","lo":-0.1053,"m":-0.0065,"hi":0.0928,"s":0.54},
{"g":10,"c":"SPLEEN","lo":-0.2158,"m":-0.0732,"hi":0.0706,"s":0.37},
{"g":10,"c":"STMACH","lo":-0.0288,"m":0.0386,"hi":0.1066,"s":0.79},
{"g":10,"c":"TESTIS","lo":-0.2144,"m":-0.0955,"hi":0.0242,"s":0.45},
{"g":10,"c":"THYROID","lo":-0.1380,"m":-0.0667,"hi":0.0059,"s":0.74},
{"g":10,"c":"UTERUS","lo":-0.2138,"m":-0.0320,"hi":0.1504,"s":0.29},
{"g":10,"c":"VAGINA","lo":-0.2661,"m":-0.0902,"hi":0.0870,"s":0.30},
{"g":10,"c":"WHLBLD","lo":-0.1033,"m":-0.0281,"hi":0.0477,"s":0.71}
]},
"columns": 2,
"spacing": {"row": 229, "column": 149},
"bounds": "flush",
"concat": [
{"width": 619, "height": 347, "title": {"text": "1: ENSG00000000419.8_20_49461813_G_C_b37"},
 "layer": [
  {"data": {"values": [{}]}, "mark": {"type": "rule", "color": "#cccccc", "strokeWidth": 3, "strokeDash": [20, 12]}, "encoding": {"x": {"datum": 0, "type": "quantitative", "title": "Effect size", "scale": {"domain": [-0.2436, 0.0352], "nice": false, "zero": false}}}},
  {"transform": [{"filter": "datum.g == 1"}], "mark": {"type": "rule", "strokeWidth": 3.5, "strokeCap": "round"},
   "encoding": {
    "x": {"field": "lo", "type": "quantitative", "title": "Effect size", "scale": {"domain": [-0.2436, 0.0352], "nice": false, "zero": false}, "axis": {"values": [-0.2, -0.15, -0.1, -0.05, 0], "labelExpr": "replace(format(datum.value, '.2f'), '\u2212', '-')"}},
    "x2": {"field": "hi"},
    "y": {"field": "c", "type": "nominal", "title": "Condition", "scale": {"type": "point", "padding": 3.78, "align": 0.405, "domain": ["ADPSBQ","ADPVSC","ADRNLG","ARTAORT","ARTCRN","ARTTBL","BRNACC","BRNCDT","BRNCHA","BRNCHB","BRNCTXA","BRNCTXB","BRNHPP","BRNHPT","BRNNCC","BRNPTM","BREAST","LCL","FIBRBLS","CLNSGM","CLNTRN","ESPGEJ","ESPMCS","ESPMSL","HRTAA","HRTLV","LIVER","LUNG","MSCLSK","NERVET","OVARY","PNCREAS","PTTARY","PRSTTE","SKINNS","SKINS","SNTTRM","SPLEEN","STMACH","TESTIS","THYROID","UTERUS","VAGINA","WHLBLD"]}},
    "color": {"field": "c", "type": "nominal", "legend": null, "scale": {"domain": ["ADPSBQ","ADPVSC","ADRNLG","ARTAORT","ARTCRN","ARTTBL","BRNACC","BRNCDT","BRNCHA","BRNCHB","BRNCTXA","BRNCTXB","BRNHPP","BRNHPT","BRNNCC","BRNPTM","BREAST","LCL","FIBRBLS","CLNSGM","CLNTRN","ESPGEJ","ESPMCS","ESPMSL","HRTAA","HRTLV","LIVER","LUNG","MSCLSK","NERVET","OVARY","PNCREAS","PTTARY","PRSTTE","SKINNS","SKINS","SNTTRM","SPLEEN","STMACH","TESTIS","THYROID","UTERUS","VAGINA","WHLBLD"], "range": ["#FF6600","#FFAA00","#33DD33","#FF5555","#FFAA99","#FF0000","#EEEE00","#EEEE00","#EEEE00","#EEEE00","#EEEE00","#EEEE00","#EEEE00","#EEEE00","#EEEE00","#EEEE00","#33CCCC","#CC66FF","#AAEEFF","#EEBB77","#CC9955","#8B7355","#552200","#BB9988","#9900FF","#660099","#AABB66","#99FF00","#AAAAFF","#FFD700","#FFAAFF","#995522","#AAFF99","#DDDDDD","#0000FF","#7777FF","#555522","#778855","#FFDD99","#AAAAAA","#006600","#FF66FF","#FF5599","#FF00BB"]}}
   }},
  {"transform": [{"filter": "datum.g == 1"}], "mark": {"type": "point", "shape": "square", "filled": true, "color": "black", "opacity": 1, "strokeWidth": 0},
   "encoding": {
    "x": {"field": "m", "type": "quantitative", "title": "Effect size", "scale": {"domain": [-0.2436, 0.0352], "nice": false, "zero": false}},
    "y": {"field": "c", "type": "nominal", "title": "Condition"},
    "size": {"field": "s", "type": "quantitative", "legend": null, "scale": {"type": "pow", "exponent": 2, "domain": [0, 1], "range": [0, 64]}}
   }}
 ]},
{"width": 619, "height": 347, "title": {"text": "2: ENSG00000000457.9_1_169695110_T_A_b37"},
 "layer": [
  {"transform": [{"filter": "datum.g == 2"}], "mark": {"type": "rule", "strokeWidth": 3.5, "strokeCap": "round"},
   "encoding": {
    "x": {"field": "lo", "type": "quantitative", "title": "Effect size", "scale": {"domain": [-0.3916, -0.0393], "nice": false, "zero": false}, "axis": {"values": [-0.35, -0.3, -0.25, -0.2, -0.15, -0.1, -0.05], "labelExpr": "replace(format(datum.value, '.2f'), '\u2212', '-')"}},
    "x2": {"field": "hi"},
    "y": {"field": "c", "type": "nominal", "title": "Condition", "scale": {"type": "point", "padding": 3.78, "align": 0.405, "domain": ["ADPSBQ","ADPVSC","ADRNLG","ARTAORT","ARTCRN","ARTTBL","BRNACC","BRNCDT","BRNCHA","BRNCHB","BRNCTXA","BRNCTXB","BRNHPP","BRNHPT","BRNNCC","BRNPTM","BREAST","LCL","FIBRBLS","CLNSGM","CLNTRN","ESPGEJ","ESPMCS","ESPMSL","HRTAA","HRTLV","LIVER","LUNG","MSCLSK","NERVET","OVARY","PNCREAS","PTTARY","PRSTTE","SKINNS","SKINS","SNTTRM","SPLEEN","STMACH","TESTIS","THYROID","UTERUS","VAGINA","WHLBLD"]}},
    "color": {"field": "c", "type": "nominal", "legend": null, "scale": {"domain": ["ADPSBQ","ADPVSC","ADRNLG","ARTAORT","ARTCRN","ARTTBL","BRNACC","BRNCDT","BRNCHA","BRNCHB","BRNCTXA","BRNCTXB","BRNHPP","BRNHPT","BRNNCC","BRNPTM","BREAST","LCL","FIBRBLS","CLNSGM","CLNTRN","ESPGEJ","ESPMCS","ESPMSL","HRTAA","HRTLV","LIVER","LUNG","MSCLSK","NERVET","OVARY","PNCREAS","PTTARY","PRSTTE","SKINNS","SKINS","SNTTRM","SPLEEN","STMACH","TESTIS","THYROID","UTERUS","VAGINA","WHLBLD"], "range": ["#FF6600","#FFAA00","#33DD33","#FF5555","#FFAA99","#FF0000","#EEEE00","#EEEE00","#EEEE00","#EEEE00","#EEEE00","#EEEE00","#EEEE00","#EEEE00","#EEEE00","#EEEE00","#33CCCC","#CC66FF","#AAEEFF","#EEBB77","#CC9955","#8B7355","#552200","#BB9988","#9900FF","#660099","#AABB66","#99FF00","#AAAAFF","#FFD700","#FFAAFF","#995522","#AAFF99","#DDDDDD","#0000FF","#7777FF","#555522","#778855","#FFDD99","#AAAAAA","#006600","#FF66FF","#FF5599","#FF00BB"]}}
   }},
  {"transform": [{"filter": "datum.g == 2"}], "mark": {"type": "point", "shape": "square", "filled": true, "color": "black", "opacity": 1, "strokeWidth": 0},
   "encoding": {
    "x": {"field": "m", "type": "quantitative", "title": "Effect size", "scale": {"domain": [-0.3916, -0.0393], "nice": false, "zero": false}},
    "y": {"field": "c", "type": "nominal", "title": "Condition"},
    "size": {"field": "s", "type": "quantitative", "legend": null, "scale": {"type": "pow", "exponent": 2, "domain": [0, 1], "range": [0, 64]}}
   }}
 ]},
{"width": 619, "height": 347, "title": {"text": "3: ENSG00000000460.12_1_169655079_G_A_b37"},
 "layer": [
  {"data": {"values": [{}]}, "mark": {"type": "rule", "color": "#cccccc", "strokeWidth": 3, "strokeDash": [20, 12]}, "encoding": {"x": {"datum": 0, "type": "quantitative", "title": "Effect size", "scale": {"domain": [-0.0376, 0.5521], "nice": false, "zero": false}}}},
  {"transform": [{"filter": "datum.g == 3"}], "mark": {"type": "rule", "strokeWidth": 3.5, "strokeCap": "round"},
   "encoding": {
    "x": {"field": "lo", "type": "quantitative", "title": "Effect size", "scale": {"domain": [-0.0376, 0.5521], "nice": false, "zero": false}, "axis": {"values": [0, 0.1, 0.2, 0.3, 0.4, 0.5], "labelExpr": "replace(format(datum.value, '.1f'), '\u2212', '-')"}},
    "x2": {"field": "hi"},
    "y": {"field": "c", "type": "nominal", "title": "Condition", "scale": {"type": "point", "padding": 3.78, "align": 0.405, "domain": ["ADPSBQ","ADPVSC","ADRNLG","ARTAORT","ARTCRN","ARTTBL","BRNACC","BRNCDT","BRNCHA","BRNCHB","BRNCTXA","BRNCTXB","BRNHPP","BRNHPT","BRNNCC","BRNPTM","BREAST","LCL","FIBRBLS","CLNSGM","CLNTRN","ESPGEJ","ESPMCS","ESPMSL","HRTAA","HRTLV","LIVER","LUNG","MSCLSK","NERVET","OVARY","PNCREAS","PTTARY","PRSTTE","SKINNS","SKINS","SNTTRM","SPLEEN","STMACH","TESTIS","THYROID","UTERUS","VAGINA","WHLBLD"]}},
    "color": {"field": "c", "type": "nominal", "legend": null, "scale": {"domain": ["ADPSBQ","ADPVSC","ADRNLG","ARTAORT","ARTCRN","ARTTBL","BRNACC","BRNCDT","BRNCHA","BRNCHB","BRNCTXA","BRNCTXB","BRNHPP","BRNHPT","BRNNCC","BRNPTM","BREAST","LCL","FIBRBLS","CLNSGM","CLNTRN","ESPGEJ","ESPMCS","ESPMSL","HRTAA","HRTLV","LIVER","LUNG","MSCLSK","NERVET","OVARY","PNCREAS","PTTARY","PRSTTE","SKINNS","SKINS","SNTTRM","SPLEEN","STMACH","TESTIS","THYROID","UTERUS","VAGINA","WHLBLD"], "range": ["#FF6600","#FFAA00","#33DD33","#FF5555","#FFAA99","#FF0000","#EEEE00","#EEEE00","#EEEE00","#EEEE00","#EEEE00","#EEEE00","#EEEE00","#EEEE00","#EEEE00","#EEEE00","#33CCCC","#CC66FF","#AAEEFF","#EEBB77","#CC9955","#8B7355","#552200","#BB9988","#9900FF","#660099","#AABB66","#99FF00","#AAAAFF","#FFD700","#FFAAFF","#995522","#AAFF99","#DDDDDD","#0000FF","#7777FF","#555522","#778855","#FFDD99","#AAAAAA","#006600","#FF66FF","#FF5599","#FF00BB"]}}
   }},
  {"transform": [{"filter": "datum.g == 3"}], "mark": {"type": "point", "shape": "square", "filled": true, "color": "black", "opacity": 1, "strokeWidth": 0},
   "encoding": {
    "x": {"field": "m", "type": "quantitative", "title": "Effect size", "scale": {"domain": [-0.0376, 0.5521], "nice": false, "zero": false}},
    "y": {"field": "c", "type": "nominal", "title": "Condition"},
    "size": {"field": "s", "type": "quantitative", "legend": null, "scale": {"type": "pow", "exponent": 2, "domain": [0, 1], "range": [0, 64]}}
   }}
 ]},
{"width": 619, "height": 347, "title": {"text": "4: ENSG00000000938.8_1_27888990_T_C_b37"},
 "layer": [
  {"data": {"values": [{}]}, "mark": {"type": "rule", "color": "#cccccc", "strokeWidth": 3, "strokeDash": [20, 12]}, "encoding": {"x": {"datum": 0, "type": "quantitative", "title": "Effect size", "scale": {"domain": [-0.2798, 0.2575], "nice": false, "zero": false}}}},
  {"transform": [{"filter": "datum.g == 4"}], "mark": {"type": "rule", "strokeWidth": 3.5, "strokeCap": "round"},
   "encoding": {
    "x": {"field": "lo", "type": "quantitative", "title": "Effect size", "scale": {"domain": [-0.2798, 0.2575], "nice": false, "zero": false}, "axis": {"values": [-0.2, -0.1, 0, 0.1, 0.2], "labelExpr": "replace(format(datum.value, '.1f'), '\u2212', '-')"}},
    "x2": {"field": "hi"},
    "y": {"field": "c", "type": "nominal", "title": "Condition", "scale": {"type": "point", "padding": 3.78, "align": 0.405, "domain": ["ADPSBQ","ADPVSC","ADRNLG","ARTAORT","ARTCRN","ARTTBL","BRNACC","BRNCDT","BRNCHA","BRNCHB","BRNCTXA","BRNCTXB","BRNHPP","BRNHPT","BRNNCC","BRNPTM","BREAST","LCL","FIBRBLS","CLNSGM","CLNTRN","ESPGEJ","ESPMCS","ESPMSL","HRTAA","HRTLV","LIVER","LUNG","MSCLSK","NERVET","OVARY","PNCREAS","PTTARY","PRSTTE","SKINNS","SKINS","SNTTRM","SPLEEN","STMACH","TESTIS","THYROID","UTERUS","VAGINA","WHLBLD"]}},
    "color": {"field": "c", "type": "nominal", "legend": null, "scale": {"domain": ["ADPSBQ","ADPVSC","ADRNLG","ARTAORT","ARTCRN","ARTTBL","BRNACC","BRNCDT","BRNCHA","BRNCHB","BRNCTXA","BRNCTXB","BRNHPP","BRNHPT","BRNNCC","BRNPTM","BREAST","LCL","FIBRBLS","CLNSGM","CLNTRN","ESPGEJ","ESPMCS","ESPMSL","HRTAA","HRTLV","LIVER","LUNG","MSCLSK","NERVET","OVARY","PNCREAS","PTTARY","PRSTTE","SKINNS","SKINS","SNTTRM","SPLEEN","STMACH","TESTIS","THYROID","UTERUS","VAGINA","WHLBLD"], "range": ["#FF6600","#FFAA00","#33DD33","#FF5555","#FFAA99","#FF0000","#EEEE00","#EEEE00","#EEEE00","#EEEE00","#EEEE00","#EEEE00","#EEEE00","#EEEE00","#EEEE00","#EEEE00","#33CCCC","#CC66FF","#AAEEFF","#EEBB77","#CC9955","#8B7355","#552200","#BB9988","#9900FF","#660099","#AABB66","#99FF00","#AAAAFF","#FFD700","#FFAAFF","#995522","#AAFF99","#DDDDDD","#0000FF","#7777FF","#555522","#778855","#FFDD99","#AAAAAA","#006600","#FF66FF","#FF5599","#FF00BB"]}}
   }},
  {"transform": [{"filter": "datum.g == 4"}], "mark": {"type": "point", "shape": "square", "filled": true, "color": "black", "opacity": 1, "strokeWidth": 0},
   "encoding": {
    "x": {"field": "m", "type": "quantitative", "title": "Effect size", "scale": {"domain": [-0.2798, 0.2575], "nice": false, "zero": false}},
    "y": {"field": "c", "type": "nominal", "title": "Condition"},
    "size": {"field": "s", "type": "quantitative", "legend": null, "scale": {"type": "pow", "exponent": 2, "domain": [0, 1], "range": [0, 64]}}
   }}
 ]},
{"width": 619, "height": 347, "title": {"text": "5: ENSG00000000971.11_1_196513323_A_G_b37"},
 "layer": [
  {"data": {"values": [{}]}, "mark": {"type": "rule", "color": "#cccccc", "strokeWidth": 3, "strokeDash": [20, 12]}, "encoding": {"x": {"datum": 0, "type": "quantitative", "title": "Effect size", "scale": {"domain": [-0.3399, 0.0815], "nice": false, "zero": false}}}},
  {"transform": [{"filter": "datum.g == 5"}], "mark": {"type": "rule", "strokeWidth": 3.5, "strokeCap": "round"},
   "encoding": {
    "x": {"field": "lo", "type": "quantitative", "title": "Effect size", "scale": {"domain": [-0.3399, 0.0815], "nice": false, "zero": false}, "axis": {"values": [-0.3, -0.25, -0.2, -0.15, -0.1, -0.05, 0, 0.05], "labelExpr": "replace(format(datum.value, '.2f'), '\u2212', '-')"}},
    "x2": {"field": "hi"},
    "y": {"field": "c", "type": "nominal", "title": "Condition", "scale": {"type": "point", "padding": 3.78, "align": 0.405, "domain": ["ADPSBQ","ADPVSC","ADRNLG","ARTAORT","ARTCRN","ARTTBL","BRNACC","BRNCDT","BRNCHA","BRNCHB","BRNCTXA","BRNCTXB","BRNHPP","BRNHPT","BRNNCC","BRNPTM","BREAST","LCL","FIBRBLS","CLNSGM","CLNTRN","ESPGEJ","ESPMCS","ESPMSL","HRTAA","HRTLV","LIVER","LUNG","MSCLSK","NERVET","OVARY","PNCREAS","PTTARY","PRSTTE","SKINNS","SKINS","SNTTRM","SPLEEN","STMACH","TESTIS","THYROID","UTERUS","VAGINA","WHLBLD"]}},
    "color": {"field": "c", "type": "nominal", "legend": null, "scale": {"domain": ["ADPSBQ","ADPVSC","ADRNLG","ARTAORT","ARTCRN","ARTTBL","BRNACC","BRNCDT","BRNCHA","BRNCHB","BRNCTXA","BRNCTXB","BRNHPP","BRNHPT","BRNNCC","BRNPTM","BREAST","LCL","FIBRBLS","CLNSGM","CLNTRN","ESPGEJ","ESPMCS","ESPMSL","HRTAA","HRTLV","LIVER","LUNG","MSCLSK","NERVET","OVARY","PNCREAS","PTTARY","PRSTTE","SKINNS","SKINS","SNTTRM","SPLEEN","STMACH","TESTIS","THYROID","UTERUS","VAGINA","WHLBLD"], "range": ["#FF6600","#FFAA00","#33DD33","#FF5555","#FFAA99","#FF0000","#EEEE00","#EEEE00","#EEEE00","#EEEE00","#EEEE00","#EEEE00","#EEEE00","#EEEE00","#EEEE00","#EEEE00","#33CCCC","#CC66FF","#AAEEFF","#EEBB77","#CC9955","#8B7355","#552200","#BB9988","#9900FF","#660099","#AABB66","#99FF00","#AAAAFF","#FFD700","#FFAAFF","#995522","#AAFF99","#DDDDDD","#0000FF","#7777FF","#555522","#778855","#FFDD99","#AAAAAA","#006600","#FF66FF","#FF5599","#FF00BB"]}}
   }},
  {"transform": [{"filter": "datum.g == 5"}], "mark": {"type": "point", "shape": "square", "filled": true, "color": "black", "opacity": 1, "strokeWidth": 0},
   "encoding": {
    "x": {"field": "m", "type": "quantitative", "title": "Effect size", "scale": {"domain": [-0.3399, 0.0815], "nice": false, "zero": false}},
    "y": {"field": "c", "type": "nominal", "title": "Condition"},
    "size": {"field": "s", "type": "quantitative", "legend": null, "scale": {"type": "pow", "exponent": 2, "domain": [0, 1], "range": [0, 64]}}
   }}
 ]},
{"width": 619, "height": 347, "title": {"text": "6: ENSG00000001036.9_6_143751633_A_G_b37"},
 "layer": [
  {"data": {"values": [{}]}, "mark": {"type": "rule", "color": "#cccccc", "strokeWidth": 3, "strokeDash": [20, 12]}, "encoding": {"x": {"datum": 0, "type": "quantitative", "title": "Effect size", "scale": {"domain": [-0.1998, 0.6706], "nice": false, "zero": false}}}},
  {"transform": [{"filter": "datum.g == 6"}], "mark": {"type": "rule", "strokeWidth": 3.5, "strokeCap": "round"},
   "encoding": {
    "x": {"field": "lo", "type": "quantitative", "title": "Effect size", "scale": {"domain": [-0.1998, 0.6706], "nice": false, "zero": false}, "axis": {"values": [-0.1, 0, 0.1, 0.2, 0.3, 0.4, 0.5, 0.6], "labelExpr": "replace(format(datum.value, '.1f'), '\u2212', '-')"}},
    "x2": {"field": "hi"},
    "y": {"field": "c", "type": "nominal", "title": "Condition", "scale": {"type": "point", "padding": 3.78, "align": 0.405, "domain": ["ADPSBQ","ADPVSC","ADRNLG","ARTAORT","ARTCRN","ARTTBL","BRNACC","BRNCDT","BRNCHA","BRNCHB","BRNCTXA","BRNCTXB","BRNHPP","BRNHPT","BRNNCC","BRNPTM","BREAST","LCL","FIBRBLS","CLNSGM","CLNTRN","ESPGEJ","ESPMCS","ESPMSL","HRTAA","HRTLV","LIVER","LUNG","MSCLSK","NERVET","OVARY","PNCREAS","PTTARY","PRSTTE","SKINNS","SKINS","SNTTRM","SPLEEN","STMACH","TESTIS","THYROID","UTERUS","VAGINA","WHLBLD"]}},
    "color": {"field": "c", "type": "nominal", "legend": null, "scale": {"domain": ["ADPSBQ","ADPVSC","ADRNLG","ARTAORT","ARTCRN","ARTTBL","BRNACC","BRNCDT","BRNCHA","BRNCHB","BRNCTXA","BRNCTXB","BRNHPP","BRNHPT","BRNNCC","BRNPTM","BREAST","LCL","FIBRBLS","CLNSGM","CLNTRN","ESPGEJ","ESPMCS","ESPMSL","HRTAA","HRTLV","LIVER","LUNG","MSCLSK","NERVET","OVARY","PNCREAS","PTTARY","PRSTTE","SKINNS","SKINS","SNTTRM","SPLEEN","STMACH","TESTIS","THYROID","UTERUS","VAGINA","WHLBLD"], "range": ["#FF6600","#FFAA00","#33DD33","#FF5555","#FFAA99","#FF0000","#EEEE00","#EEEE00","#EEEE00","#EEEE00","#EEEE00","#EEEE00","#EEEE00","#EEEE00","#EEEE00","#EEEE00","#33CCCC","#CC66FF","#AAEEFF","#EEBB77","#CC9955","#8B7355","#552200","#BB9988","#9900FF","#660099","#AABB66","#99FF00","#AAAAFF","#FFD700","#FFAAFF","#995522","#AAFF99","#DDDDDD","#0000FF","#7777FF","#555522","#778855","#FFDD99","#AAAAAA","#006600","#FF66FF","#FF5599","#FF00BB"]}}
   }},
  {"transform": [{"filter": "datum.g == 6"}], "mark": {"type": "point", "shape": "square", "filled": true, "color": "black", "opacity": 1, "strokeWidth": 0},
   "encoding": {
    "x": {"field": "m", "type": "quantitative", "title": "Effect size", "scale": {"domain": [-0.1998, 0.6706], "nice": false, "zero": false}},
    "y": {"field": "c", "type": "nominal", "title": "Condition"},
    "size": {"field": "s", "type": "quantitative", "legend": null, "scale": {"type": "pow", "exponent": 2, "domain": [0, 1], "range": [0, 64]}}
   }}
 ]},
{"width": 619, "height": 347, "title": {"text": "7: ENSG00000001084.6_6_53382370_G_C_b37"},
 "layer": [
  {"data": {"values": [{}]}, "mark": {"type": "rule", "color": "#cccccc", "strokeWidth": 3, "strokeDash": [20, 12]}, "encoding": {"x": {"datum": 0, "type": "quantitative", "title": "Effect size", "scale": {"domain": [-0.1914, 0.2208], "nice": false, "zero": false}}}},
  {"transform": [{"filter": "datum.g == 7"}], "mark": {"type": "rule", "strokeWidth": 3.5, "strokeCap": "round"},
   "encoding": {
    "x": {"field": "lo", "type": "quantitative", "title": "Effect size", "scale": {"domain": [-0.1914, 0.2208], "nice": false, "zero": false}, "axis": {"values": [-0.15, -0.1, -0.05, 0, 0.05, 0.1, 0.15, 0.2], "labelExpr": "replace(format(datum.value, '.2f'), '\u2212', '-')"}},
    "x2": {"field": "hi"},
    "y": {"field": "c", "type": "nominal", "title": "Condition", "scale": {"type": "point", "padding": 3.78, "align": 0.405, "domain": ["ADPSBQ","ADPVSC","ADRNLG","ARTAORT","ARTCRN","ARTTBL","BRNACC","BRNCDT","BRNCHA","BRNCHB","BRNCTXA","BRNCTXB","BRNHPP","BRNHPT","BRNNCC","BRNPTM","BREAST","LCL","FIBRBLS","CLNSGM","CLNTRN","ESPGEJ","ESPMCS","ESPMSL","HRTAA","HRTLV","LIVER","LUNG","MSCLSK","NERVET","OVARY","PNCREAS","PTTARY","PRSTTE","SKINNS","SKINS","SNTTRM","SPLEEN","STMACH","TESTIS","THYROID","UTERUS","VAGINA","WHLBLD"]}},
    "color": {"field": "c", "type": "nominal", "legend": null, "scale": {"domain": ["ADPSBQ","ADPVSC","ADRNLG","ARTAORT","ARTCRN","ARTTBL","BRNACC","BRNCDT","BRNCHA","BRNCHB","BRNCTXA","BRNCTXB","BRNHPP","BRNHPT","BRNNCC","BRNPTM","BREAST","LCL","FIBRBLS","CLNSGM","CLNTRN","ESPGEJ","ESPMCS","ESPMSL","HRTAA","HRTLV","LIVER","LUNG","MSCLSK","NERVET","OVARY","PNCREAS","PTTARY","PRSTTE","SKINNS","SKINS","SNTTRM","SPLEEN","STMACH","TESTIS","THYROID","UTERUS","VAGINA","WHLBLD"], "range": ["#FF6600","#FFAA00","#33DD33","#FF5555","#FFAA99","#FF0000","#EEEE00","#EEEE00","#EEEE00","#EEEE00","#EEEE00","#EEEE00","#EEEE00","#EEEE00","#EEEE00","#EEEE00","#33CCCC","#CC66FF","#AAEEFF","#EEBB77","#CC9955","#8B7355","#552200","#BB9988","#9900FF","#660099","#AABB66","#99FF00","#AAAAFF","#FFD700","#FFAAFF","#995522","#AAFF99","#DDDDDD","#0000FF","#7777FF","#555522","#778855","#FFDD99","#AAAAAA","#006600","#FF66FF","#FF5599","#FF00BB"]}}
   }},
  {"transform": [{"filter": "datum.g == 7"}], "mark": {"type": "point", "shape": "square", "filled": true, "color": "black", "opacity": 1, "strokeWidth": 0},
   "encoding": {
    "x": {"field": "m", "type": "quantitative", "title": "Effect size", "scale": {"domain": [-0.1914, 0.2208], "nice": false, "zero": false}},
    "y": {"field": "c", "type": "nominal", "title": "Condition"},
    "size": {"field": "s", "type": "quantitative", "legend": null, "scale": {"type": "pow", "exponent": 2, "domain": [0, 1], "range": [0, 64]}}
   }}
 ]},
{"width": 619, "height": 347, "title": {"text": "8: ENSG00000001167.10_6_41068600_A_G_b37"},
 "layer": [
  {"data": {"values": [{}]}, "mark": {"type": "rule", "color": "#cccccc", "strokeWidth": 3, "strokeDash": [20, 12]}, "encoding": {"x": {"datum": 0, "type": "quantitative", "title": "Effect size", "scale": {"domain": [-0.1539, 1.0413], "nice": false, "zero": false}}}},
  {"transform": [{"filter": "datum.g == 8"}], "mark": {"type": "rule", "strokeWidth": 3.5, "strokeCap": "round"},
   "encoding": {
    "x": {"field": "lo", "type": "quantitative", "title": "Effect size", "scale": {"domain": [-0.1539, 1.0413], "nice": false, "zero": false}, "axis": {"values": [0, 0.2, 0.4, 0.6, 0.8, 1], "labelExpr": "replace(format(datum.value, '.1f'), '\u2212', '-')"}},
    "x2": {"field": "hi"},
    "y": {"field": "c", "type": "nominal", "title": "Condition", "scale": {"type": "point", "padding": 3.78, "align": 0.405, "domain": ["ADPSBQ","ADPVSC","ADRNLG","ARTAORT","ARTCRN","ARTTBL","BRNACC","BRNCDT","BRNCHA","BRNCHB","BRNCTXA","BRNCTXB","BRNHPP","BRNHPT","BRNNCC","BRNPTM","BREAST","LCL","FIBRBLS","CLNSGM","CLNTRN","ESPGEJ","ESPMCS","ESPMSL","HRTAA","HRTLV","LIVER","LUNG","MSCLSK","NERVET","OVARY","PNCREAS","PTTARY","PRSTTE","SKINNS","SKINS","SNTTRM","SPLEEN","STMACH","TESTIS","THYROID","UTERUS","VAGINA","WHLBLD"]}},
    "color": {"field": "c", "type": "nominal", "legend": null, "scale": {"domain": ["ADPSBQ","ADPVSC","ADRNLG","ARTAORT","ARTCRN","ARTTBL","BRNACC","BRNCDT","BRNCHA","BRNCHB","BRNCTXA","BRNCTXB","BRNHPP","BRNHPT","BRNNCC","BRNPTM","BREAST","LCL","FIBRBLS","CLNSGM","CLNTRN","ESPGEJ","ESPMCS","ESPMSL","HRTAA","HRTLV","LIVER","LUNG","MSCLSK","NERVET","OVARY","PNCREAS","PTTARY","PRSTTE","SKINNS","SKINS","SNTTRM","SPLEEN","STMACH","TESTIS","THYROID","UTERUS","VAGINA","WHLBLD"], "range": ["#FF6600","#FFAA00","#33DD33","#FF5555","#FFAA99","#FF0000","#EEEE00","#EEEE00","#EEEE00","#EEEE00","#EEEE00","#EEEE00","#EEEE00","#EEEE00","#EEEE00","#EEEE00","#33CCCC","#CC66FF","#AAEEFF","#EEBB77","#CC9955","#8B7355","#552200","#BB9988","#9900FF","#660099","#AABB66","#99FF00","#AAAAFF","#FFD700","#FFAAFF","#995522","#AAFF99","#DDDDDD","#0000FF","#7777FF","#555522","#778855","#FFDD99","#AAAAAA","#006600","#FF66FF","#FF5599","#FF00BB"]}}
   }},
  {"transform": [{"filter": "datum.g == 8"}], "mark": {"type": "point", "shape": "square", "filled": true, "color": "black", "opacity": 1, "strokeWidth": 0},
   "encoding": {
    "x": {"field": "m", "type": "quantitative", "title": "Effect size", "scale": {"domain": [-0.1539, 1.0413], "nice": false, "zero": false}},
    "y": {"field": "c", "type": "nominal", "title": "Condition"},
    "size": {"field": "s", "type": "quantitative", "legend": null, "scale": {"type": "pow", "exponent": 2, "domain": [0, 1], "range": [0, 64]}}
   }}
 ]},
{"width": 619, "height": 347, "title": {"text": "9: ENSG00000001460.13_1_24747185_G_A_b37"},
 "layer": [
  {"data": {"values": [{}]}, "mark": {"type": "rule", "color": "#cccccc", "strokeWidth": 3, "strokeDash": [20, 12]}, "encoding": {"x": {"datum": 0, "type": "quantitative", "title": "Effect size", "scale": {"domain": [-0.4482, 1.2625], "nice": false, "zero": false}}}},
  {"transform": [{"filter": "datum.g == 9"}], "mark": {"type": "rule", "strokeWidth": 3.5, "strokeCap": "round"},
   "encoding": {
    "x": {"field": "lo", "type": "quantitative", "title": "Effect size", "scale": {"domain": [-0.4482, 1.2625], "nice": false, "zero": false}, "axis": {"values": [-0.4, -0.2, 0, 0.2, 0.4, 0.6, 0.8, 1, 1.2], "labelExpr": "replace(format(datum.value, '.1f'), '\u2212', '-')"}},
    "x2": {"field": "hi"},
    "y": {"field": "c", "type": "nominal", "title": "Condition", "scale": {"type": "point", "padding": 3.78, "align": 0.405, "domain": ["ADPSBQ","ADPVSC","ADRNLG","ARTAORT","ARTCRN","ARTTBL","BRNACC","BRNCDT","BRNCHA","BRNCHB","BRNCTXA","BRNCTXB","BRNHPP","BRNHPT","BRNNCC","BRNPTM","BREAST","LCL","FIBRBLS","CLNSGM","CLNTRN","ESPGEJ","ESPMCS","ESPMSL","HRTAA","HRTLV","LIVER","LUNG","MSCLSK","NERVET","OVARY","PNCREAS","PTTARY","PRSTTE","SKINNS","SKINS","SNTTRM","SPLEEN","STMACH","TESTIS","THYROID","UTERUS","VAGINA","WHLBLD"]}},
    "color": {"field": "c", "type": "nominal", "legend": null, "scale": {"domain": ["ADPSBQ","ADPVSC","ADRNLG","ARTAORT","ARTCRN","ARTTBL","BRNACC","BRNCDT","BRNCHA","BRNCHB","BRNCTXA","BRNCTXB","BRNHPP","BRNHPT","BRNNCC","BRNPTM","BREAST","LCL","FIBRBLS","CLNSGM","CLNTRN","ESPGEJ","ESPMCS","ESPMSL","HRTAA","HRTLV","LIVER","LUNG","MSCLSK","NERVET","OVARY","PNCREAS","PTTARY","PRSTTE","SKINNS","SKINS","SNTTRM","SPLEEN","STMACH","TESTIS","THYROID","UTERUS","VAGINA","WHLBLD"], "range": ["#FF6600","#FFAA00","#33DD33","#FF5555","#FFAA99","#FF0000","#EEEE00","#EEEE00","#EEEE00","#EEEE00","#EEEE00","#EEEE00","#EEEE00","#EEEE00","#EEEE00","#EEEE00","#33CCCC","#CC66FF","#AAEEFF","#EEBB77","#CC9955","#8B7355","#552200","#BB9988","#9900FF","#660099","#AABB66","#99FF00","#AAAAFF","#FFD700","#FFAAFF","#995522","#AAFF99","#DDDDDD","#0000FF","#7777FF","#555522","#778855","#FFDD99","#AAAAAA","#006600","#FF66FF","#FF5599","#FF00BB"]}}
   }},
  {"transform": [{"filter": "datum.g == 9"}], "mark": {"type": "point", "shape": "square", "filled": true, "color": "black", "opacity": 1, "strokeWidth": 0},
   "encoding": {
    "x": {"field": "m", "type": "quantitative", "title": "Effect size", "scale": {"domain": [-0.4482, 1.2625], "nice": false, "zero": false}},
    "y": {"field": "c", "type": "nominal", "title": "Condition"},
    "size": {"field": "s", "type": "quantitative", "legend": null, "scale": {"type": "pow", "exponent": 2, "domain": [0, 1], "range": [0, 64]}}
   }}
 ]},
{"width": 619, "height": 347, "title": {"text": "10: ENSG00000001461.12_1_24714396_A_G_b37"},
 "layer": [
  {"data": {"values": [{}]}, "mark": {"type": "rule", "color": "#cccccc", "strokeWidth": 3, "strokeDash": [20, 12]}, "encoding": {"x": {"datum": 0, "type": "quantitative", "title": "Effect size", "scale": {"domain": [-0.4842, 0.5143], "nice": false, "zero": false}}}},
  {"transform": [{"filter": "datum.g == 10"}], "mark": {"type": "rule", "strokeWidth": 3.5, "strokeCap": "round"},
   "encoding": {
    "x": {"field": "lo", "type": "quantitative", "title": "Effect size", "scale": {"domain": [-0.4842, 0.5143], "nice": false, "zero": false}, "axis": {"values": [-0.4, -0.2, 0, 0.2, 0.4], "labelExpr": "replace(format(datum.value, '.1f'), '\u2212', '-')"}},
    "x2": {"field": "hi"},
    "y": {"field": "c", "type": "nominal", "title": "Condition", "scale": {"type": "point", "padding": 3.78, "align": 0.405, "domain": ["ADPSBQ","ADPVSC","ADRNLG","ARTAORT","ARTCRN","ARTTBL","BRNACC","BRNCDT","BRNCHA","BRNCHB","BRNCTXA","BRNCTXB","BRNHPP","BRNHPT","BRNNCC","BRNPTM","BREAST","LCL","FIBRBLS","CLNSGM","CLNTRN","ESPGEJ","ESPMCS","ESPMSL","HRTAA","HRTLV","LIVER","LUNG","MSCLSK","NERVET","OVARY","PNCREAS","PTTARY","PRSTTE","SKINNS","SKINS","SNTTRM","SPLEEN","STMACH","TESTIS","THYROID","UTERUS","VAGINA","WHLBLD"]}},
    "color": {"field": "c", "type": "nominal", "legend": null, "scale": {"domain": ["ADPSBQ","ADPVSC","ADRNLG","ARTAORT","ARTCRN","ARTTBL","BRNACC","BRNCDT","BRNCHA","BRNCHB","BRNCTXA","BRNCTXB","BRNHPP","BRNHPT","BRNNCC","BRNPTM","BREAST","LCL","FIBRBLS","CLNSGM","CLNTRN","ESPGEJ","ESPMCS","ESPMSL","HRTAA","HRTLV","LIVER","LUNG","MSCLSK","NERVET","OVARY","PNCREAS","PTTARY","PRSTTE","SKINNS","SKINS","SNTTRM","SPLEEN","STMACH","TESTIS","THYROID","UTERUS","VAGINA","WHLBLD"], "range": ["#FF6600","#FFAA00","#33DD33","#FF5555","#FFAA99","#FF0000","#EEEE00","#EEEE00","#EEEE00","#EEEE00","#EEEE00","#EEEE00","#EEEE00","#EEEE00","#EEEE00","#EEEE00","#33CCCC","#CC66FF","#AAEEFF","#EEBB77","#CC9955","#8B7355","#552200","#BB9988","#9900FF","#660099","#AABB66","#99FF00","#AAAAFF","#FFD700","#FFAAFF","#995522","#AAFF99","#DDDDDD","#0000FF","#7777FF","#555522","#778855","#FFDD99","#AAAAAA","#006600","#FF66FF","#FF5599","#FF00BB"]}}
   }},
  {"transform": [{"filter": "datum.g == 10"}], "mark": {"type": "point", "shape": "square", "filled": true, "color": "black", "opacity": 1, "strokeWidth": 0},
   "encoding": {
    "x": {"field": "m", "type": "quantitative", "title": "Effect size", "scale": {"domain": [-0.4842, 0.5143], "nice": false, "zero": false}},
    "y": {"field": "c", "type": "nominal", "title": "Condition"},
    "size": {"field": "s", "type": "quantitative", "legend": null, "scale": {"type": "pow", "exponent": 2, "domain": [0, 1], "range": [0, 64]}}
   }}
 ]}
],
"config": {
 "view": {"stroke": null},
 "font": "Liberation Sans",
 "title": {"font": "Liberation Sans Narrow, Liberation Sans", "fontSize": 26, "fontWeight": "bold", "color": "black", "anchor": "middle", "frame": "group", "offset": 44},
 "axisX": {"grid": false, "domainColor": "black", "domainWidth": 2, "tickColor": "black", "tickWidth": 1.5, "tickSize": 12, "labelFont": "Liberation Sans Narrow, Liberation Sans", "labelFontSize": 21, "labelColor": "black", "labelPadding": 6, "labelFlush": false, "labelOverlap": false, "labelBound": false, "titleFont": "Liberation Sans Narrow, Liberation Sans", "titleFontSize": 21, "titleFontWeight": "normal", "titleColor": "black", "titlePadding": 30},
 "axisY": {"grid": false, "domain": false, "ticks": false, "labels": false, "titleFont": "Liberation Sans", "titleFontSize": 21, "titleFontWeight": "normal", "titleColor": "black", "titleAngle": -90, "titleX": -88, "titleY": 173.5, "titleAlign": "center", "titleBaseline": "middle"}
}
}
